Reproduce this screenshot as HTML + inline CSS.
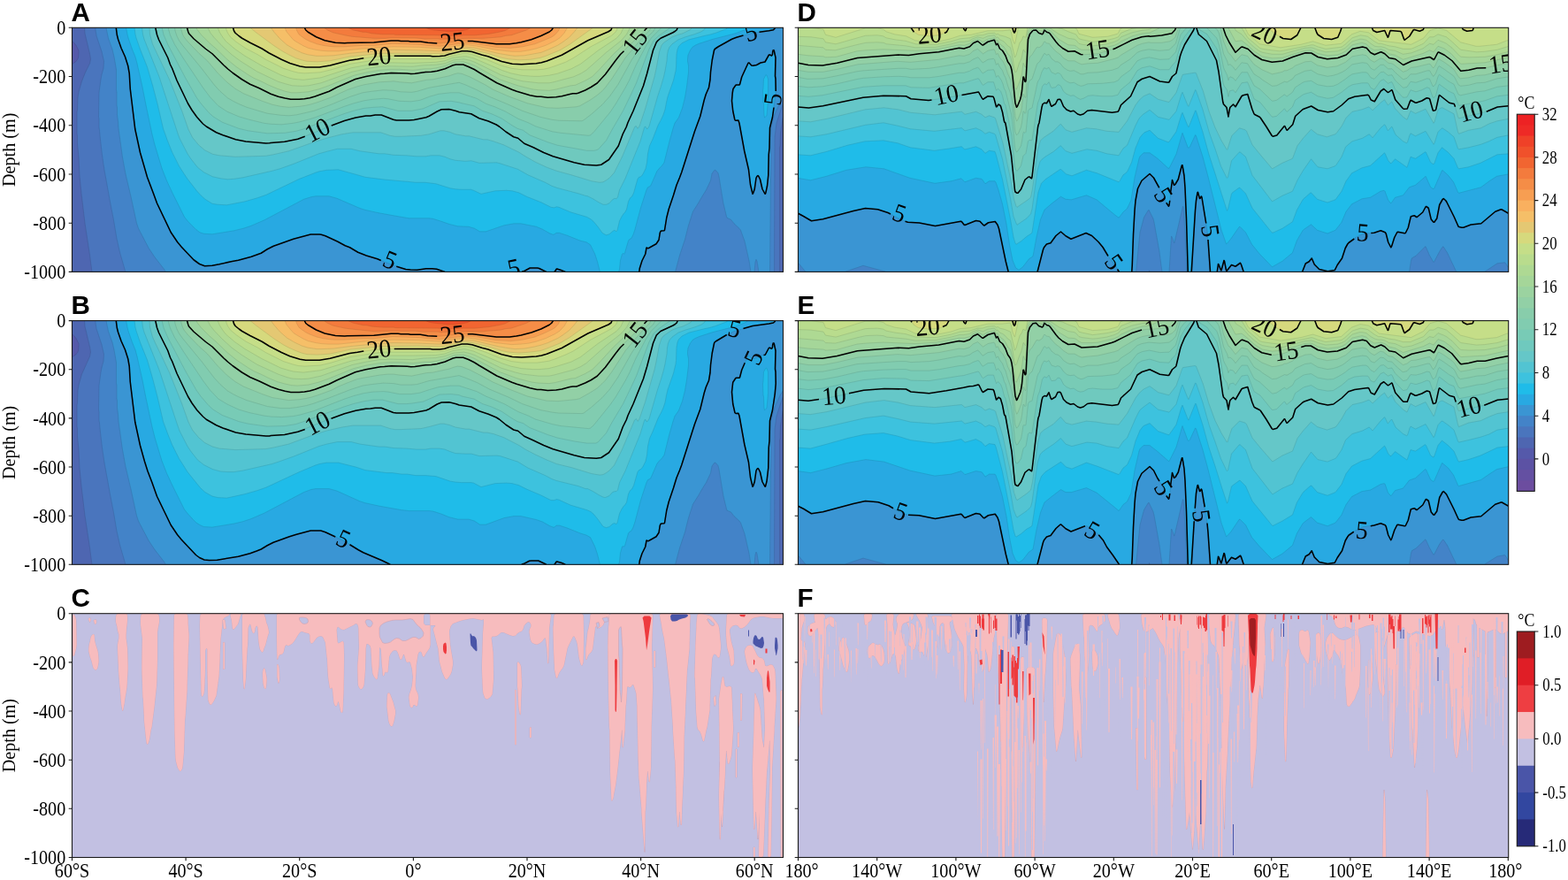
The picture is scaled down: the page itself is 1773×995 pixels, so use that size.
<!DOCTYPE html>
<html><head><meta charset="utf-8"><title>Figure</title><style>
html,body{margin:0;padding:0;background:#fff}
svg{display:block}
text{font-family:"Liberation Serif",serif;font-size:23.6px;fill:#000}
.c{font-size:29px}
.b{font-family:"Liberation Sans",sans-serif;font-weight:bold;font-size:29.6px}
</style></head><body>
<svg width="1773" height="995" viewBox="0 0 1773 995">
<defs><clipPath id="cA"><rect x="81.5" y="31.3" width="804.0" height="276.1"/></clipPath><clipPath id="cB"><rect x="81.5" y="362.6" width="804.0" height="275.7"/></clipPath><clipPath id="cC"><rect x="81.5" y="693.7" width="804.0" height="275.8"/></clipPath><clipPath id="cD"><rect x="902.5" y="31.3" width="803.2" height="276.1"/></clipPath><clipPath id="cE"><rect x="902.5" y="362.6" width="803.2" height="275.7"/></clipPath><clipPath id="cF"><rect x="902.5" y="693.7" width="803.2" height="275.8"/></clipPath></defs>
<g clip-path="url(#cA)"><rect x="81.5" y="31.3" width="804.0" height="276.1" fill="#5559aa"/><g transform="translate(81.50,31.30) scale(0.5000)" fill-rule="evenodd"><path fill="#4e66b1" stroke="#414c8b" stroke-width="0.90" d="M-1-1l1610 0 0 554-1610 0 0-471 3-1 6-4 4-5 2-4 1-11 0-5-6-12-7-8-3 0z"/><path fill="#4a75bd" stroke="#3d5892" stroke-width="0.90" d="M28-1l1581 0 0 203-1 0-1 4-5 32-1 29-1 5 0 281-1555 0-5-39-11-72-5-42-3-25-4-40-2-42-3-31 0-17-1-5 0-49 1-5 1-28 2-13 7-24 8-20 10-20 2-10-2-12-11-46z"/><path fill="#4383c8" stroke="#38639c" stroke-width="0.90" d="M53-1l1556 0 0 173-1 0-4 10-11 34-4 31-1 306-1467 0-13-45-7-31-7-42-8-41-7-39-6-33-3-20-2-14-2-17-3-27-1-12-1-6 0-19-1-6 1-55 4-29 2-11 4-14 1-16-5-22-12-36-2-13z"/><path fill="#3a95d3" stroke="#3270a4" stroke-width="0.90" d="M77-1l1532 0 0 159-1 0-7 11-12 27-3 9-5 22-3 326-25 0-4-25-2-4-2 6-2 23-8 0-4-26-10-44-9-25-3-4-12-11-7-9-9-4-1-3-7-29-10-61-2-8-5-6-2-1-2 1-5 7-3 16-10 21-10 16-8 14-12 19-10 31-8 32-12 36-10 38-1152 0-4-7-21-27-14-21-23-44-4-12-13-60-12-51-7-38-9-65-1-16-2-15 0-16-1-5 0-30-1-5 0-20 0-5 0-21-2-12-3-17-4-17-9-25-4-19z"/><path fill="#28a9e2" stroke="#277faf" stroke-width="0.90" d="M100-1l1490 0 0 1-1 2-3 3-10 2-37 5-42 12-27 14-17 11-6 24-4 44-3 18-6 15-4 13-9 37-13 34-30 93-4 12-7 17-17 54-6 20-4 28-1 1-8 1-2 4-2 16-6 9-17 10-2 0-2-1-1 0-3 14-7 15-3 9-2 8-1 9-167 0 0-1-8-3-11-3-2 1-5 6-17 0 0-1-17-8-17-1-5 1-10 6-8 2 0 1-173 0 0-1-17-6-11-1-15 0-20 3-16 0-18-4-31-11-25-10-24-7-20-8-18-11-11-4-16-9-28-13-12-4-22 1-39 10-44 16-14 7-15 9-10 4-15 5-26 7-48 10-22 3-6 0-10-4-8-5-9-7-25-27-10-11-14-22-32-65-21-57-17-58-11-54-11-91-3-35-3-17-6-20-9-20-7-20-2-10zM1586 50l2 2 3 16-1 41 1 6 1 27-3 23-5 37-6 24-1 47-1 14-1 47-3 24-3 14-1 3-1 1-7-14-4-20-4-7-2 0-3 5-4 25-4 11-5-21-4-34-9-41-12-65-2-5-6 0-2-2-5-20-2-24 2-24 6-10 9-1 1-1 4-17 15-31 2-1 5 6 4 1 8-1 9-5 10-3 9-16 2 0 4 2 1 0 1-9z"/><path fill="#1fbce9" stroke="#1c8fb8" stroke-width="0.90" d="M122-1l1405 0 0 1-1 2-5 3-21 8-51 13-31 10-9 4-6 4-5 7-5 11-1 9 0 5 2 10 0 15-4 33-4 24-6 24-8 21-9 13-4 12-8 29-12 48-5 7-5 5-6 7-13 30-2 4-6 3-3 6-13 40-13 49-4 12-4 8-5 3-2 3-8 27-2 3-2-2-2 2-4 14-2 20-2 7-42 0-6-24-6-18-10-20-9-6-13-3-30-12-18-6-7 0-4 3-3 1-8-3-16-9-14-6-35-7-16 0-22 4-41 14-14 0-12-7-13-4-25-1-20-5-17-6-19-6-8-1-46 0-18-3-50-9-32-7-12-4-51-22-18-5-30 0-11 2-16 5-89 47-30 13-18 6-21 5-49 8-19-1-9-3-8-6-7-7-12-12-8-10-26-52-14-30-11-28-16-53-6-24-14-66-8-41-12-53-4-15-7-17-9-26-2-8zM1569 107l1 0 1 1 3 8 0 49-3 33-4 5-1 0-1-6-1-25-1-4-1-25 1-6 1-21z"/><path fill="#3dc2de" stroke="#2599b6" stroke-width="0.90" d="M141-1l1341 0 0 1-1 2-2 1-24 9-14 4-10 2-36 9-16 8-7 7-3 7-2 11-1 30-1 8-5 21-13 37-3 13-3 16-4 12-5 11-7 13-12 31-7 15-4 18-2 20-3 14-6 12-3 4-2 2-4 1-3 4-9 32-4 8-4 3-4 8-4 18-4 7-3 3-4 6-5 10-5 21-2 3-4-3-4 2-8 7-7 2-6-3-3-2-10-14-10-12-6-5-9-5-37-11-26-11-5-1-6 2-7-1-22-11-33-13-18-9-15-4-13-1-25 1-32 7-17-8-6-2-22 0-13-1-12-2-32-10-24-3-22 0-19-2-13-1-21-2-13-1-48-6-21-6-40-11-26 1-17 3-9 3-36 14-75 36-20 7-28 8-41 8-20-1-13-2-16-10-10-9-9-10-21-27-10-15-9-14-16-32-10-25-10-28-13-56-11-42-12-41-16-40-9-26-2-8z"/><path fill="#52c4d2" stroke="#399cad" stroke-width="0.90" d="M158-1l1274 0 0 1-2 4-7 5-16 6-20 6-16 6-14 10-6 7-3 7-2 10-1 14-4 23-3 13-6 21-8 24-19 67-4 6-2-1-2-4-2 0-1 2-9 31-34 84-13 26-4 16-3 4-4-1-5 3-7 8-7 3-3 0-4 0-10-5-13-8-12-6-5-1-16-5-49-13-11-4-15-8-39-17-23-13-40-13-8-2-39 1-18-5-14 1-22-2-12-3-12-5-12-3-20 0-11 2-22 0-21-2-30-1-20-3-13 0-43-6-20-5-31 0-24 6-18 5-57 23-31 11-18 5-66 15-20 3-14 1-16-2-18-4-20-10-14-11-15-19-8-12-18-35-4-11-42-128-34-85-3-11z"/><path fill="#65c7c8" stroke="#499ea4" stroke-width="0.90" d="M175-1l1226 0 0 1-2 4-10 5-8 4-11 3-13 5-19 13-5 6-5 15-7 38-4 18-21 73-13 39-3 4-1 1-3-5-2 0-2 2-28 67-18 36-11 12-7 5-7 4-8 1-18-3-46-14-33-9-22-8-26-12-23-13-14-9-35-17-23-8-14-4-9 0-32-8-8 0-23-4-13-5-13-3-8 0-26 8-18 3-46 2-13 0-11-2-21-7-63 0-25 4-35 9-26 8-59 21-35 8-17 3-69 2-36-3-15-3-18-9-14-12-14-17-9-18-15-43-28-70-32-67-6-13-6-22z"/><path fill="#6fc9be" stroke="#55a09c" stroke-width="0.90" d="M189-1l1180 0 0 1-2 5-3 3-33 16-9 9-8 18-14 53-8 27-23 57-24 53-10 28-21 30-16 11-12 2-27-2-23-5-48-14-21-9-23-11-21-9-14-12-10-3-18-11-14-12-7-5-18-7-21-7-18-10-27-4-14-4-10-2-16 0-10 4-18 11-8 3-27 5-12 1-28 0-7-1-28-11-13 0-11 2-9 0-24 4-23 7-28 10-74 30-36 8-42 3-53-5-22-5-33-12-26-15-7-6-9-10-17-21-9-15-24-52-16-37-5-14-21-42-4-11z"/><path fill="#78cbb6" stroke="#5ca295" stroke-width="0.90" d="M203-1l1150 0 0 1-26 18-12 11-10 19-29 77-13 28-17 35-25 43-13 24-18 20-5 2-5 1-16 0-27-5-39-7-22-7-41-16-15-11-13-4-12-7-24-16-22-10-21-7-19-11-27-6-7-2-18-3-26 1-14 6-23 10-26 5-12 0-19 0-35-9-20 1-21 2-25 6-22 7-93 35-15 4-25 4-40 1-43-6-21-5-37-14-21-13-10-9-18-21-10-14-25-44-39-74-10-23z"/><path fill="#81ccb0" stroke="#64a38f" stroke-width="0.90" d="M217-1l1116 0 0 1-23 23-12 18-23 44-15 34-9 17-22 37-12 18-38 46-7 6-4 1-63-6-19-3-38-12-16-8-23-9-30-17-23-10-20-7-21-12-40-13-19 0-27 3-21 6-21 8-20 3-27-1-25-5-11-1-24 2-20 3-23 6-21 7-69 26-32 9-15 3-26 3-24-1-16-2-33-8-24-7-26-11-20-13-19-20-15-20-45-67-20-32-10-21-3-10z"/><path fill="#88cdab" stroke="#6aa48b" stroke-width="0.90" d="M232-1l1087 0 0 1-5 9-11 10-10 14-27 39-31 56-19 27-17 19-25 22-17 13-4 2-52-1-16-2-26-6-41-14-31-14-43-18-28-15-27-12-14-5-68 12-27 8-12 2-25-1-16-3-23-1-27 3-20 3-28 9-46 19-36 13-17 4-22 5-17 2-18-1-31-4-47-14-19-8-12-6-12-7-17-15-13-14-30-39-42-51-8-11-5-10-4-12z"/><path fill="#92d0a6" stroke="#71a587" stroke-width="0.90" d="M246-1l1063 0 0 1-3 6-13 13-41 48-31 48-15 20-7 8-12 10-16 11-23 13-8 2-41 3-26-1-43-10-41-15-37-16-18-11-35-18-18-7-9-1-8 2-11 4-19 4-18 4-14 1-34 7-27-2-14-2-13 1-19 1-35 6-15 4-21 7-22 10-15 7-30 11-16 5-13 3-13 2-25 2-18-2-19-4-23-8-42-17-19-11-19-15-21-21-23-27-19-17-26-27-8-10-3-6-3-10z"/><path fill="#9bd3a0" stroke="#78a882" stroke-width="0.90" d="M260-1l1041 0 0 1-61 60-10 13-24 32-17 19-15 11-21 10-12 4-9 0-25 6-24 3-31-2-12-2-37-11-39-17-42-24-12-8-14-6-11-4-17-1-11 4-13 6-18 5-13 2-14 0-24 4-9 1-9-2-36-1-24 2-33 6-24 7-42 18-17 9-32 12-24 5-12 1-17 0-19-3-18-5-10-4-26-13-21-9-18-11-31-23-36-35-42-34-11-12-2-4z"/><path fill="#a5d699" stroke="#80aa7d" stroke-width="0.90" d="M281-1l1000 0 0 1-13 16-13 15-31 29-32 35-16 16-16 9-22 10-10 1-36 9-13 2-24-1-15-2-32-8-41-14-56-31-12-5-14-4-21 1-20 8-20 5-13 2-14 0-26 3-31-2-21 0-24 2-29 5-29 7-59 24-20 7-24 6-25 2-13 0-14-3-18-6-19-8-16-8-18-8-12-7-27-18-21-17-26-25-14-12-19-19-10-13z"/><path fill="#aed993" stroke="#88ac78" stroke-width="0.90" d="M306-1l956 0 0 1-8 15-12 14-34 27-45 40-13 8-16 7-45 12-10 2-24 0-36-4-16-4-33-10-59-29-11-4-14-3-23 2-20 8-21 3-27 1-25 3-52-1-23 1-30 5-32 7-70 25-28 6-16 1-21-1-12-3-20-6-48-23-35-22-22-16-22-20-18-19-8-10z"/><path fill="#b9dc8d" stroke="#90af73" stroke-width="0.90" d="M329-1l918 0 0 1-6 13-10 11-42 28-39 30-21 11-32 11-19 4-21 2-15 0-26-2-24-5-18-6-66-28-16-4-6 0-25 3-19 7-20 3-53 2-52-1-21 1-27 4-38 7-68 22-40 5-22-2-12-3-17-6-43-21-38-22-23-16-20-17-7-9-7-11z"/><path fill="#c5de88" stroke="#99b16f" stroke-width="0.90" d="M348-1l885 0 0 1-1 5-3 5-9 8-47 25-40 26-17 9-25 9-12 4-13 3-14 1-34 0-24-3-25-7-32-13-34-12-11-2-7 0-26 6-15 4-11 2-18 1-108 0-21 2-57 9-43 13-25 6-35 2-14-1-12-3-22-7-40-20-18-11-27-14-22-15-13-11-6-9-3-7z"/><path fill="#d6d97d" stroke="#a4b068" stroke-width="0.90" d="M364-1l857 0 0 1-2 5-6 4-46 20-59 33-34 14-24 5-33 2-21-1-24-6-31-11-37-11-10-1-10 0-12 2-30 9-10 1-16 0-6-1-105 0-22 2-51 7-19 4-30 8-24 5-29 0-19-4-26-9-39-19-18-11-27-14-17-9-13-10-4-6z"/><path fill="#e4c873" stroke="#b1a760" stroke-width="0.90" d="M403-1l775 0 0 1-53 38-22 13-32 13-12 4-23 4-25 1-24-2-15-3-29-9-37-9-19-1-12 1-34 8-10 1-49-1-80 0-72 7-47 10-28 2-24-1-12-3-13-4-16-8-13-7-20-13-42-31-12-10z"/><path fill="#f5bf68" stroke="#bd9c58" stroke-width="0.90" d="M449-1l694 0 0 1-7 9-12 13-15 11-11 7-22 10-15 6-16 3-22 4-22 1-15-2-23-4-55-13-20-1-12 1-35 7-11 1-47-2-55-1-26 1-74 7-37 5-26 1-12 0-20-3-13-4-17-8-17-10-16-14-13-15z"/><path fill="#f9b05f" stroke="#c69350" stroke-width="0.90" d="M481-1l639 0 0 1-7 12-10 11-11 7-21 10-21 7-17 4-19 3-20 0-36-4-46-9-17-2-19 1-45 7-47-3-59-1-65 4-57 6-24 0-15-1-13-2-17-4-11-5-14-8-8-5-7-8-9-11z"/><path fill="#f79e52" stroke="#c68647" stroke-width="0.90" d="M506-1l597 0 0 1-3 7-8 9-7 5-19 8-20 8-14 3-13 3-27 3-34-2-45-8-17-1-12 0-52 7-29-2-18-2-60-2-41 4-25 0-45 3-21 0-12-1-14-2-13-3-16-6-10-5-10-7-5-4-5-9z"/><path fill="#f58d47" stroke="#c5783d" stroke-width="0.90" d="M525-1l563 0 0 1-3 5-7 5-17 9-19 7-26 7-11 2-15 2-18 0-12 0-56-7-22 0-50 5-27-1-18-3-22 0-29-2-15 1-39 3-26 0-5 1-44 1-12-1-15-3-11-3-16-6-7-4-12-8-6-5z"/><path fill="#f37b3d" stroke="#c36a35" stroke-width="0.90" d="M570-1l468 0 0 1-12 6-18 6-15 5-12 1-12 3-39 3-29 0-5 0-45 1-17 1-7-1-29 0-23-2-56 0-10 1-27 0-49-4-16-3-27-6-13-6-7-5z"/><path fill="#f16531" stroke="#c25a2c" stroke-width="0.90" d="M624-1l368 0 0 1-14 7-13 3-22 4-32 3-27 0-5 1-36 0-16-1-96-1-4-1-24 0-25-2-13-3-7 0-23-5-11-5z"/><path fill="#f0512b" stroke="#c04925" stroke-width="0.90" d="M800-1l102 0 0 1-8 4-15 3-13 1-19 0-30-3-10-2-7-3z"/></g><path transform="scale(0.2500)" fill="none" stroke="#000" stroke-width="6.20" stroke-linejoin="round" stroke-linecap="butt" d="M3506 125l-2 4-6 6-20 4-44 6M3362 160l-31 9-21 8-61 34-15 10-4 6-9 45-7 54-2 34-6 36-13 30-8 26-18 74-25 68-59 185-9 24-14 34-14 46-21 62-10 40-9 56-2 2-12 1-4 2-3 7-5 32-12 18-34 19-4 1-4-3-2 1-5 28-15 30-6 19-5 16-2 16M3498 225l3 4 7 32-2 83 2 12 1 56M3500 486l-6 44-12 48-2 92-3 28-2 95-5 48-6 28-2 7-2 1-12-22-10-44-7-14-3-3-4 3-4 8-7 50-7 20-2 2-10-42-8-68-19-83-23-126-4-13-2-1-10 1-3-1-2-4-8-38-5-46 3-36 3-18 11-16 3-2 13 0 3-2 9-34 29-63 4-1 11 12 7 1 16-3 18-10 20-4 18-32 4 0 8 4 2-2 2-5 1-12 3-8M2012 1230l-37-13-20-2-28 0-40 6-30-1-22-2-42-13M1723 1178l-16-7-50-15-38-15-37-22-21-8-33-18-56-26-19-6-8-1-40 0-78 21-90 32-28 14-28 18-44 16-59 16-28 5-58 13-32 6-34 2-24-9-26-19-55-58-19-23-29-43-63-132-16-44-28-74-32-111-23-106-22-182-4-70-6-34-13-41-18-40-14-40-5-20-4-32M2471 1230l-32-16-8-2-34 0-24 13-12 4M2557 1230l-19-8-19-6-3 2-6 10-4 2M3065 125l-4 10-7 6-10 6-56 26-12 10-7 8-15 36-28 107-16 54-46 114-24 52-7 20-16 32-20 54-43 62-35 23-22 3-54-3-46-10-96-28-42-17-46-23-42-18-28-24-20-6-35-23-29-23-14-9-36-16-42-13-36-20-54-8-14-5-32-8-34 1-20 9-36 21-14 6-54 11-24 2-56 0-14-3-54-21-28 0-22 4-20 0-46 8-51 14-59 22M1379 617l-32 12-60 12-62 5-6 1-16 1-91-8-46-9-58-20-30-12-45-27-15-12-27-30-23-32-18-30-50-104-21-54-9-18-11-31-41-82-8-22-7-32M2927 125l-13 14M2822 231l-15 14-20 25-49 66-37 40-28 18-26 14-32 13-8 2-16 0-14 3-36 9-26 4-38 2-30-4-18 0-32-6-60-18-22-8-68-30-78-46-24-15-26-12-24-10-32 0-14 3-36 16-36 10-26 4-26 1-48 7-18 1-18-2-72-2-30 3-18 1-66 12-48 12-84 37-34 18-64 23-24 7-24 4-24 2-38 0-26-5-30-7-34-12-52-26-42-18-37-22-41-29-21-17-20-18-52-52-30-22-54-46-22-24-3-8-5-18M2768 125l-4 10-12 8-93 40-118 66-68 27-24 7-24 4-66 4-42-2-48-11-62-23-28-7-44-14-22-3-24 0-58 14-20 7-22 2-32 1-12-2-162 0M1645 263l-28 5-36 5-88 23-48 8-62 0-26-4-46-14-38-17-56-29-32-20-54-27-36-20-14-10-17-14-6-10-4-14M2502 125l-7 11-10 8-38 18-44 17-46 12-22 4-30 4-60 0-108-13-22 0M1977 196l-42-3-34-5-44 0-10-2-34 0-12-2-32 0-78 8-120 2-12 1-42-2-48-10-39-16-37-22-10-9-6-11"/><text transform="translate(511.5,47.0) rotate(-6.0) scale(0.950,1)" text-anchor="middle" y="9.6" class="c">25</text><text transform="translate(428.5,63.5) rotate(-6.0) scale(0.950,1)" text-anchor="middle" y="9.6" class="c">20</text><text transform="translate(359.0,147.0) rotate(-27.0) scale(0.950,1)" text-anchor="middle" y="9.6" class="c">10</text><text transform="translate(718.0,47.0) rotate(-52.0) scale(0.950,1)" text-anchor="middle" y="9.6" class="c">15</text><text transform="translate(441.0,294.0) rotate(22.0) scale(0.950,1)" text-anchor="middle" y="9.6" class="c">5</text><text transform="translate(581.0,303.0) rotate(-12.0) scale(0.950,1)" text-anchor="middle" y="9.6" class="c">5</text><text transform="translate(849.0,36.5) rotate(-15.0) scale(0.950,1)" text-anchor="middle" y="9.6" class="c">5</text><text transform="translate(874.0,112.0) rotate(-82.0) scale(0.950,1)" text-anchor="middle" y="9.6" class="c">5</text></g>
<g clip-path="url(#cB)"><rect x="81.5" y="362.6" width="804.0" height="275.7" fill="#5559aa"/><g transform="translate(81.50,362.60) scale(0.5000)" fill-rule="evenodd"><path fill="#4e66b1" stroke="#414c8b" stroke-width="0.90" d="M-1-1l1610 0 0 553-1610 0 0-470 3-1 6-4 4-5 2-4 1-11 0-5-6-12-7-8-3-1z"/><path fill="#4a75bd" stroke="#3d5892" stroke-width="0.90" d="M28-1l1581 0 0 203-1 0-1 4-5 31-1 29-1 5 0 281-1555 0-5-39-11-72-5-42-3-25-4-40-2-42-3-31 0-17-1-5 0-48 1-5 1-28 2-13 7-24 18-40 2-10-2-12-11-46z"/><path fill="#4383c8" stroke="#38639c" stroke-width="0.90" d="M53-1l1556 0 0 172-1 0-4 11-11 34-4 30-1 306-1467 0-13-45-7-31-7-42-8-41-7-39-6-33-3-20-2-14-2-17-3-27-1-12-1-5 0-19-1-6 1-55 4-29 2-11 4-14 1-16-5-22-12-36-2-13z"/><path fill="#3a95d3" stroke="#3270a4" stroke-width="0.90" d="M77-1l1532 0 0 159-1 0-7 11-12 27-3 9-5 22-3 325-25 0-4-25-2-4-2 6-2 23-8 0-4-26-10-44-9-25-3-4-12-11-7-9-9-4-1-3-7-29-10-61-2-8-5-6-2-1-2 1-5 7-3 16-10 21-10 16-8 14-12 19-10 31-8 32-12 36-10 38-1152 0-4-7-21-27-14-21-23-44-4-12-13-60-12-51-7-38-9-64-1-16-2-15 0-16-1-5 0-30-1-5 0-20 0-5 0-21-2-12-3-17-4-17-9-25-4-19z"/><path fill="#28a9e2" stroke="#277faf" stroke-width="0.90" d="M100-1l1490 0 0 1-1 2-3 3-10 2-37 5-42 12-27 14-17 11-6 24-4 44-3 18-6 15-4 13-9 37-13 34-30 92-4 12-7 17-17 54-6 20-4 28-1 1-8 2-2 3-2 16-6 9-17 10-2 0-2-1-1 0-3 14-7 15-3 9-2 8-1 9-167 0 0-1-8-3-11-3-2 1-5 6-17 0 0-1-17-8-17 0-5 0-10 6-8 2 0 1-297 0 0-1-18-9-32-13-21-10-32-20-26-13-17-8-12-3-22 0-40 10-44 16-14 7-14 9-11 4-14 5-26 7-34 6-14 2-17 1-12-1-10-5-8-5-33-36-10-11-14-22-32-65-21-57-17-58-11-53-11-91-3-35-3-17-6-20-9-20-7-20-2-10zM1586 50l2 2 3 16-1 41 1 6 1 27-3 23-5 37-6 24-1 46-1 14-1 47-3 24-3 14-1 4-1 0-7-14-4-20-4-7-2 0-3 5-4 25-4 12-5-22-4-34-9-41-12-64-2-5-6 0-2-2-5-20-2-24 2-24 6-10 9-1 1-1 4-17 15-31 2-1 5 6 4 1 8-2 9-5 10-2 9-16 2 0 4 2 1-1 1-8z"/><path fill="#1fbce9" stroke="#1c8fb8" stroke-width="0.90" d="M122-1l1405 0 0 1-1 2-5 3-21 8-51 13-31 10-9 4-6 4-5 7-5 11-1 8 0 6 2 10 0 15-4 33-4 24-6 24-8 21-9 13-4 12-8 28-12 48-5 7-5 5-6 7-13 30-2 4-6 3-3 6-13 40-13 49-4 12-4 8-5 3-2 3-8 28-2 2-2-1-2 1-4 14-2 20-2 7-42 0-6-24-6-18-10-20-9-5-13-4-30-12-18-6-7 0-4 4-3 0-8-3-16-9-14-5-35-8-16 0-22 4-41 15-14 0-12-8-13-4-25 0-20-5-17-7-19-6-8-1-46 0-18-2-50-9-32-7-12-4-51-23-18-5-30 0-11 2-16 6-89 47-30 13-18 6-21 5-49 8-19-1-9-4-8-5-7-7-12-13-8-10-26-52-14-30-11-28-16-53-6-24-14-65-8-41-12-53-4-15-7-17-9-26-2-8zM1569 107l1 0 1 1 3 8 0 49-3 32-4 5-1 0-1-5-1-25-1-4-1-25 1-6 1-21z"/><path fill="#3dc2de" stroke="#2599b6" stroke-width="0.90" d="M141-1l1341 0 0 1-1 2-2 1-24 9-14 4-10 2-36 9-16 8-7 7-3 7-2 11-1 30-1 8-5 21-13 37-3 13-3 16-4 12-5 11-7 13-12 30-7 15-4 18-2 20-3 14-6 12-3 4-2 2-4 2-3 4-9 31-4 8-4 3-4 8-4 19-4 6-3 3-4 6-5 10-5 21-2 3-4-2-4 1-8 7-7 2-6-2-3-3-10-14-10-12-6-5-9-4-37-11-26-12-5-1-6 2-7 0-22-11-33-14-18-9-15-4-13-1-25 1-32 8-17-9-6-1-22 0-13-1-12-2-32-11-24-2-22 0-19-3-13 0-21-3-13 0-48-6-21-7-40-10-26 0-17 3-9 3-36 15-75 35-20 7-28 8-41 9-20-1-13-3-16-9-10-9-9-11-21-26-10-16-9-14-16-32-10-25-10-27-13-56-11-42-12-41-16-40-9-26-2-8z"/><path fill="#52c4d2" stroke="#399cad" stroke-width="0.90" d="M158-1l1274 0 0 1-2 4-7 5-16 6-20 6-16 6-14 10-6 7-3 7-2 10-1 14-4 23-3 13-6 21-8 24-19 66-4 6-2 0-2-4-2 0-1 2-9 30-34 84-13 26-4 17-3 3-4 0-5 2-7 8-7 3-3 1-4-1-10-5-13-8-12-6-5 0-16-6-49-12-11-4-15-8-39-17-23-14-40-13-8-1-39 1-18-5-14 0-22-1-12-4-12-5-12-2-20 0-11 2-22 0-21-2-30-1-20-3-13 0-43-6-20-5-31 0-24 5-18 5-57 23-31 11-18 6-66 15-20 3-14 0-16-1-18-5-20-10-14-11-15-19-8-12-18-35-4-11-42-127-34-85-3-11z"/><path fill="#65c7c8" stroke="#499ea4" stroke-width="0.90" d="M175-1l1226 0 0 1-2 4-10 5-8 4-11 3-13 5-19 13-5 6-5 15-7 38-4 18-21 73-13 38-3 5-1 0-3-5-2 1-2 2-28 66-18 36-11 12-7 5-7 4-8 1-18-3-46-14-33-8-22-9-26-12-23-12-14-9-35-18-23-8-14-3-9 0-32-8-8 0-23-4-13-5-13-3-8 0-26 7-18 4-46 2-13 0-11-2-21-7-63 0-25 4-35 8-26 8-59 22-35 8-17 3-69 2-36-3-15-4-18-9-14-12-14-17-9-18-15-42-28-70-32-67-6-13-6-22z"/><path fill="#6fc9be" stroke="#55a09c" stroke-width="0.90" d="M189-1l1180 0 0 1-2 5-3 3-33 16-9 8-8 19-14 53-8 27-23 57-24 52-10 28-21 30-16 11-12 2-27-1-23-6-48-14-21-8-23-11-21-10-14-12-10-2-18-12-14-12-7-4-18-8-21-7-18-9-27-4-14-5-10-2-16 1-10 4-18 11-8 3-27 5-12 1-28 0-7-1-28-11-13 0-11 2-9 0-24 4-23 6-28 10-74 30-36 9-42 3-53-5-22-5-33-13-26-14-7-6-9-10-17-22-9-15-24-51-16-37-5-14-21-42-4-11z"/><path fill="#78cbb6" stroke="#5ca295" stroke-width="0.90" d="M203-1l1150 0 0 1-26 18-12 11-10 19-29 77-13 28-17 35-25 42-13 24-18 20-5 3-5 0-16 0-27-4-39-8-22-7-41-16-15-10-13-4-12-7-24-16-22-10-21-7-19-11-27-6-7-3-18-2-26 1-14 6-23 10-26 4-12 1-19 0-35-9-20 0-21 3-25 6-22 7-93 34-15 5-25 4-40 1-43-6-21-5-37-14-21-13-10-9-18-21-10-14-25-44-39-74-10-23z"/><path fill="#81ccb0" stroke="#64a38f" stroke-width="0.90" d="M217-1l1116 0 0 1-23 23-12 18-23 44-15 34-9 17-22 37-12 17-38 47-7 6-4 1-63-6-19-4-38-11-16-8-23-9-30-17-23-10-20-8-21-11-40-13-19 0-27 3-21 6-21 7-20 3-27 0-25-5-11-1-24 1-20 3-23 6-21 7-69 27-32 9-15 3-26 2-24-1-16-2-33-7-24-7-26-12-20-12-19-20-15-20-45-67-20-32-10-21-3-10z"/><path fill="#88cdab" stroke="#6aa48b" stroke-width="0.90" d="M232-1l1087 0 0 1-5 9-11 10-10 14-27 39-31 55-19 28-17 19-25 22-17 13-4 1-52-1-16-2-26-5-41-14-31-15-43-18-28-15-27-11-14-5-68 12-27 8-12 1-25 0-16-3-23-1-27 3-20 3-28 9-46 18-36 13-17 5-22 4-17 2-18 0-31-4-47-14-19-8-12-6-12-7-17-15-13-14-30-39-42-51-8-11-5-10-4-12z"/><path fill="#92d0a6" stroke="#71a587" stroke-width="0.90" d="M246-1l1063 0 0 1-3 6-13 13-41 48-31 48-15 20-7 7-12 11-16 10-23 13-8 2-41 4-26-1-43-10-41-16-37-16-18-10-35-18-18-7-9-1-8 2-11 4-19 4-18 4-14 1-34 7-27-2-14-2-13 0-19 2-35 6-15 3-21 8-22 9-15 8-30 11-16 5-13 3-13 2-25 2-18-3-19-3-23-8-42-17-19-11-19-15-21-21-23-27-19-17-26-27-8-10-3-6-3-10z"/><path fill="#9bd3a0" stroke="#78a882" stroke-width="0.90" d="M260-1l1041 0 0 1-61 60-10 13-24 32-17 19-15 10-21 10-12 5-9 0-25 6-24 3-31-2-12-3-37-10-39-17-42-24-12-8-14-6-11-5-17 0-11 4-13 6-18 5-13 2-14 0-24 4-9 0-9-1-36-1-24 2-33 6-24 6-42 19-17 8-32 12-24 6-12 1-17 0-19-4-18-5-10-4-26-12-21-9-18-11-31-23-36-35-42-34-11-12-2-4z"/><path fill="#a5d699" stroke="#80aa7d" stroke-width="0.90" d="M281-1l1000 0 0 1-13 16-13 15-31 29-32 35-16 16-16 9-22 10-10 1-36 9-13 2-24-1-15-2-32-8-41-15-56-30-12-5-14-4-21 1-20 8-20 5-13 2-14 0-26 3-31-2-21 0-24 2-29 5-29 7-59 24-20 7-24 6-25 2-13-1-14-3-18-5-19-8-16-8-18-8-12-7-27-18-21-17-26-25-14-12-19-19-10-13z"/><path fill="#aed993" stroke="#88ac78" stroke-width="0.90" d="M306-1l956 0 0 1-8 15-12 14-34 27-45 40-13 8-16 7-45 12-10 2-24 0-36-4-16-4-33-10-59-29-11-4-14-3-23 2-20 7-21 4-27 1-25 3-52-1-23 1-30 5-32 7-70 25-28 6-16 1-21-1-12-3-20-7-48-22-35-22-22-16-22-20-18-19-8-10z"/><path fill="#b9dc8d" stroke="#90af73" stroke-width="0.90" d="M329-1l918 0 0 1-6 13-10 11-42 28-39 30-21 11-32 10-19 5-21 2-15 0-26-2-24-5-18-6-66-28-16-4-6-1-25 4-19 7-20 3-53 1-52 0-21 1-27 4-38 7-68 21-40 5-22-2-12-3-17-5-43-21-38-22-23-16-20-17-7-9-7-11z"/><path fill="#c5de88" stroke="#99b16f" stroke-width="0.90" d="M348-1l885 0 0 1-1 5-3 5-9 8-47 25-40 26-17 8-25 10-12 4-13 2-14 2-34 0-24-3-25-7-32-13-34-12-11-2-7 0-26 5-15 5-11 2-18 1-108 0-21 2-57 9-43 13-25 6-35 2-14-1-12-3-22-7-40-20-18-11-27-14-22-15-13-11-6-9-3-7z"/><path fill="#d6d97d" stroke="#a4b068" stroke-width="0.90" d="M364-1l857 0 0 1-2 5-6 4-46 20-59 33-34 13-24 6-33 2-21-1-24-6-31-11-37-11-10-1-10 0-12 2-30 8-10 2-16 0-6-1-105 0-22 2-51 7-19 4-30 8-24 4-29 1-19-4-26-9-39-19-18-11-27-14-17-9-13-10-4-6z"/><path fill="#e4c873" stroke="#b1a760" stroke-width="0.90" d="M403-1l775 0 0 1-53 38-22 13-32 13-12 4-23 3-25 2-24-2-15-3-29-9-37-9-19-2-12 2-34 8-10 1-49-2-80 1-72 7-47 10-28 2-24-1-12-3-13-5-16-7-13-7-20-13-42-31-12-10z"/><path fill="#f5bf68" stroke="#bd9c58" stroke-width="0.90" d="M449-1l694 0 0 1-7 9-12 13-15 11-11 7-22 10-15 5-16 4-22 4-22 1-15-2-23-4-55-13-20-1-12 1-35 7-11 1-47-2-55-1-26 1-74 7-37 5-26 1-12 0-20-3-13-4-17-8-17-10-16-14-13-15z"/><path fill="#f9b05f" stroke="#c69350" stroke-width="0.90" d="M481-1l639 0 0 1-7 12-10 11-11 7-21 10-21 7-17 4-19 2-20 1-36-4-46-9-17-2-19 1-45 7-47-3-59-1-65 4-57 6-24 0-15-1-13-2-17-4-11-5-14-8-8-5-7-8-9-11z"/><path fill="#f79e52" stroke="#c68647" stroke-width="0.90" d="M506-1l597 0 0 1-3 7-8 9-7 4-19 9-20 8-14 3-13 3-27 3-34-2-45-8-17-1-12 0-52 7-29-2-18-2-60-2-41 4-25 0-45 3-21 0-12-1-14-2-13-3-16-6-10-5-10-7-5-4-5-9z"/><path fill="#f58d47" stroke="#c5783d" stroke-width="0.90" d="M525-1l563 0 0 1-3 5-7 5-17 9-19 7-26 7-11 2-15 2-18 0-12 0-56-7-22 0-50 5-27-1-18-3-22 0-29-2-15 0-39 4-26 0-5 1-44 1-12-1-15-3-11-3-16-6-7-4-12-8-6-5z"/><path fill="#f37b3d" stroke="#c36a35" stroke-width="0.90" d="M570-1l468 0 0 1-12 6-18 6-15 5-12 1-12 3-39 3-29 0-5 0-45 1-17 1-7-1-29 0-23-2-56 0-10 0-27 1-49-5-16-2-27-6-13-6-7-5z"/><path fill="#f16531" stroke="#c25a2c" stroke-width="0.90" d="M624-1l368 0 0 1-14 7-13 3-22 4-32 3-27 0-5 1-36 0-16-1-96-1-4-1-24 0-25-2-13-3-7 0-23-5-11-5z"/><path fill="#f0512b" stroke="#c04925" stroke-width="0.90" d="M800-1l102 0 0 1-8 4-15 3-13 1-19 0-30-3-10-2-7-3z"/></g><path transform="scale(0.2500)" fill="none" stroke="#000" stroke-width="6.20" stroke-linejoin="round" stroke-linecap="butt" d="M3506 1450l-2 5-6 5-20 4-74 10-42 12M3287 1514l-50 30-5 4-2 5-9 44-7 54-2 34-6 36-13 30-8 26-18 74-25 67-59 185-9 24-14 34-14 46-21 62-10 40-9 56-2 2-12 1-4 2-3 7-5 32-12 18-34 19-4 1-4-3-2 1-5 28-15 30-6 18-5 16-2 16M3498 1550l3 4 7 32-2 83 2 12 1 54-4 46-11 74-12 48-2 92-3 28-2 94-7 60-6 23-2 1-12-22-10-44-7-14-3-3-4 3-4 8-7 50-7 20-2 2-10-42-8-68-19-82-23-128-4-11-2-1-10 1-4-3-9-40-5-54 5-44 12-18 3-2 13 0 3-2 9-34 14-32M3454 1606l6-1 2-2 16-30 4 0 8 4 2-2 2-5 1-12 3-8M1765 2553l-37-18-85-36-22-12-39-24M1517 2428l-45-21-21-7-46 0-64 17-32 10-72 26-28 14-28 17-20 8-30 11-53 14-96 16-36 1-22-2-22-10-16-12-65-69-19-23-29-43-63-130-22-62-20-52-14-44-20-72-23-106-22-182-4-70-6-34-13-41-18-40-14-40-5-20-4-32M2471 2553l-36-17-32 0-9 1-21 11-14 5M2557 2553l-19-8-19-5-3 1-6 10-4 2M3065 1450l-4 10-7 6-10 6-56 26-12 11-7 7-15 36-28 107-16 54-46 114-24 52-7 20-16 32-20 54-43 62-35 23-22 3-54-3-46-11-96-28-42-17-46-22-42-19-28-24-20-5-35-23-29-24-14-9-36-15-42-14-36-19-54-8-14-5-32-8-34 1-20 8-36 22-14 6-54 10-24 2-56 0-14-2-54-21-28 0-22 3-20 1-46 8-51 14-60 22M1379 1942l-32 11-60 13-62 4-6 2-16 0-91-8-46-8-58-20-30-13-45-26-15-13-27-29-23-32-18-30-50-104-21-54-9-18-11-31-41-82-8-22-7-32M2927 1450l-13 14M2822 1556l-15 14-20 25-49 66-37 40-28 18-26 13-32 13-8 3-16 0-14 2-36 10-26 4-38 2-30-4-18 0-32-7-60-18-22-8-68-29-78-46-24-15-26-13-24-9-32 0-14 3-36 16-36 10-26 4-26 1-48 7-18 1-18-2-72-2-30 3-18 1-66 12-48 12-84 37-34 17-64 24-24 7-24 4-24 2-38 0-26-5-30-8-34-12-52-25-42-18-37-22-41-29-21-17-20-18-52-52-30-22-54-46-22-24-3-8-5-18M2768 1450l-4 10-12 8-93 40-118 66-68 27-24 7-24 4-66 4-42-2-48-11-62-23-28-7-44-14-22-3-24 0-58 14-20 7-22 3-32 0-12-2-162 0M1645 1588l-28 5-36 5-88 23-48 8-62 0-26-4-46-14-38-17-56-29-32-20-54-27-36-20-14-10-17-14-6-10-4-14M2502 1450l-7 11-10 8-38 19-44 16-46 12-22 4-30 4-60 0-108-13-22 0M1977 1521l-42-2-34-6-44 0-10-2-34 0-12-2-32 0-78 8-120 2-12 1-42-2-48-10-39-16-37-22-10-8-6-12"/><text transform="translate(511.5,378.3) rotate(-6.0) scale(0.950,1)" text-anchor="middle" y="9.6" class="c">25</text><text transform="translate(428.5,394.8) rotate(-6.0) scale(0.950,1)" text-anchor="middle" y="9.6" class="c">20</text><text transform="translate(359.0,478.3) rotate(-27.0) scale(0.950,1)" text-anchor="middle" y="9.6" class="c">10</text><text transform="translate(718.0,378.3) rotate(-52.0) scale(0.950,1)" text-anchor="middle" y="9.6" class="c">15</text><text transform="translate(388.3,609.2) rotate(25.0) scale(0.950,1)" text-anchor="middle" y="9.6" class="c">5</text><text transform="translate(830.7,371.6) rotate(15.0) scale(0.950,1)" text-anchor="middle" y="9.6" class="c">5</text><text transform="translate(852.0,404.5) rotate(-65.0) scale(0.950,1)" text-anchor="middle" y="9.6" class="c">5</text></g>
<g clip-path="url(#cD)"><rect x="902.5" y="31.3" width="803.2" height="276.1" fill="#4a75bd"/><g transform="translate(902.50,31.30) scale(0.5000)" fill-rule="evenodd"><path fill="#4383c8" stroke="#38639c" stroke-width="0.90" d="M-1-1l1608 0 0 554-812 0-1-4 0 4-795 0z"/><path fill="#3a95d3" stroke="#3270a4" stroke-width="0.90" d="M-1-1l1608 0 0 543-2-1-5-8-2-2-17 2-27 18-1 2-64 0-21-44-9-14-2 1-7 11-12 23-2-1-8-14-8-18-1-2-1 0-21 21-9 5-2 6-4 26-504 0-3-89-3-48-1-11-1-1-19 82-1 1 0-1-5-14-1 0-5 81-16 0-6-46-12-67-2-8-10-20-2 2-9 15-9 34-9 90-566 0 0-1-3-1-48-13-38 13-2 1 0 1-90 0-1-2-14-17-3-2z"/><path fill="#28a9e2" stroke="#277faf" stroke-width="0.90" d="M-1-1l1608 0 0 421-2 0-14-9-2 0-13 5-32 27-23 3-17 6-4 0-7-3-27-55-6-7-2 0-8 13-6 31-6 9-2-1-5-5-6-26-6-3-7 12-13 11-1 1-5-4-8 2-5 25-7 12-2 1-15-3-2 1-6 11-6 19-2 4-6-11-5-20-1-2-3-2-8-3-16 5-23 2-18 9-17 13-6 10-8 24-10 15-6 11-16 3-19-4-11-12-6-14-6 8-8 4-7 20-132 0-6-17-2-4-11 8-9-4-11 14-1-2-4-20-1-2-6 23-1-1-6-14-3 19-15 0-7-94-12-75-1-3-4 5-4-14-1 1-3 18-2 22-8 140-9 0-3-121-3-70-2-27-4-24-1 0-1 3-7 29-7 11-2 2-1 0-4-12-6 54-2 6-6-10-10-23-9-15-9-17-8-8-2 0-17 15-7 13-3 9-5 32-8 153-28 0 0-2-13-19-15-19-7-14-3-4-9-10-13-13-14-8-35 14-12-7-10-9-2 0-10 9-12 16-9 3-6 7-3 9-12 47-66 0-6-25-15-74-3-8-6-8-15 3-9 6-2 0-8-9-9-2-25 11-7-8-2-1-59 11-36-8-26-1-21-9-23-13-23-7-27-2-28 5-69 19-26 4-18-11-13-6z"/><path fill="#1fbce9" stroke="#1c8fb8" stroke-width="0.90" d="M-1-1l1608 0 0 332-27 5-17 11-19 14-50 13-2-2-10-23-12-15-12-11-2 0-17 39-2 3-5-3-2-2-10-22-1-2-1 1-22 19-14 5-14 18-18 5-9 13-2-1-5-7-7-19-2-2-8 2-23 14-19 3-23 12-13 17-10 24-14 18-17 7-2 0-22-7-14-13-16 11-3 3-13 22-10 28-23 19-23 13-29-30-17-21-14-27-13-13-2 1-18 26-9 11-2 1-11-32-30-120-12-45-15-47-1-2-1 0-12 26-3 3-2-2-12-32-14 48-16 32-2 0-24-22-18-13-14 0-8 8-2 5-10 43-8 51-9 19-9 8-9 12-2 0-7-5-42-35-23-10-34 10-13-1-11-6-21 16-16 14-9 22-9 40-8 43-9 6-14 18-9 7-7-5-7-17-7-35-7-47-9-45-9-32-6-17-2-3-13 0-9 6-7-10-2-1-12-2-25 9-8-8-23 6-37 5-56-12-59-21-41-4-44 7-45 14-36 9-29-5z"/><path fill="#3dc2de" stroke="#2599b6" stroke-width="0.90" d="M-1-1l1608 0 0 286-26 2-38 19-27 9-22 4-2-2-9-21-13-14-14-11-9 12-8 23-2 3-5-3-2-2-10-22-2-1-22 15-11-4-8 24-27-19-9 10-2-1-5-6-6-14-2-3-32 29-19 5-23 12-13 18-10 23-14 19-17 6-2 0-22-7-13-14-2-1-16 14-3 4-12 21-10 27-23 15-22 10-2-1-44-55-15-33-13-13-2 0-15 11-2 3-8 34-2 4-12-37-15-47-14-43-14-51-15-47-1-2-1 1-15 37-2-3-12-30-2 4-12 39-16 23-2 1-23-9-19-18-12 5-3 3-7 8-2 5-8 19-9 33-9 19-2 3-8 6-8 14-2 2-49-20-24-7-33 13-13-4-11-10-2-1-34 23-9 9-7 20-14 91-1 2-11 7-13 11-11 7-2-3-4-13-7-41-18-90-14-54-3-9-13-2-9 6-8-9-13-6-24 6-2 0-6-6-2 0-24 4-36 5-54-7-29-10-32-6-42 2-40 9-46 14-37 9-29-2z"/><path fill="#52c4d2" stroke="#399cad" stroke-width="0.90" d="M-1-1l1608 0 0 244-26 5-19 9-18 7-28 7-22 4-2-2-9-26-13-11-13-9-2 1-8 8-8 25-2 3-18-30-23 11-11-6-2 4-5 16-2 2-8-4-17-15-8-18-1 0-1 1-7 8-1-1-5-11-2-2-9 8-18 22-6-7-2-1-15 9-23 7-11 9-4 4-9 22-12 18-3 3-17 6-22-4-15-18-18 26-13 22-11 25-23 10-21 12-2 1-45-59-15-42-13-11-2 1-17 19-8 37-2 2-1-1-13-26-13-39-13-36-15-53-15-42-1-2-1 0-15 37-2-2-12-30-2 4-12 39-16 19-25-6-19-16-15 10-7 7-3 4-7 14-19 45-9 7-10 16-27-4-23-7-22-3-34 9-14-5-11-12-2 1-14 12-18 11-9 7-4 5-6 21-12 86-3 11-9 10-22 15-2-4-6-15-7-41-18-89-15-52-1-3-2-2-12-4-9 4-8-7-13-6-25 6-7-6-2 0-60 7-54-5-28-7-33-7-41 5-88 21-36 6-29-2z"/><path fill="#65c7c8" stroke="#499ea4" stroke-width="0.90" d="M-1-1l1608 0 0 207-26 5-18 6-19 10-28 5-22 8-2-4-9-41-26-14-2 0-4 2-4 3-8 27-2 3-18-32-23 10-11-6-8 20-9-6-18-19-7-15-1 0-8 7-1-1-7-11-8 6-19 18-8-8-16 6-22 5-14 14-10 19-12 16-3 2-18 6-22-6-14-11-18 20-13 17-11 29-23 10-21 12-2 1-27-32-18-22-13-31-3-3-13-4-17 17-2 5-8 26-1 1-1-1-12-20-14-29-14-37-13-45-16-41-2-1-2 0-26 4-2 4-13 37-16 21-2 0-23-6-19-13-14 6-10 9-8 11-19 36-19 25-27-2-24-5-22-2-33 9-14-5-11-13-2 1-15 15-21 14-8 7-6 22-12 87-4 20-9 7-22 15-2-2-5-16-8-47-17-80-16-53-1-3-2-2-12-4-9 4-8-7-13-6-25 6-7-6-2 0-59 7-55-5-28-7-32-4-42 4-87 21-37 7-29-2z"/><path fill="#6fc9be" stroke="#55a09c" stroke-width="0.90" d="M-1-1l897 0 0 1-2 6-20 32-7 17-3 9-9 38-9 8-7 13-2 1-19-2-23-11-18 5-10 7-15 32-22 20-5 12-2 3-13 2-46-5-10 1-9 7-7 2-6-2-9-7-7 2-9-5-7-7-6-14-2-2-5 0-5 11-9 5-1-2-5-13-5 8-5-1-4 3-2 7-6 35-3 11-13 112-1 3-5-4-2 0-8 7-10 23-5 6-2 1-5-3-1-4-7-71-14-79-1-3-1 1-1-3-4-21-4-14-1-1-4-2-5 5-5-19-2-4-12-1-11 7-2-2-7-14-2-1-11 3-8 1-53 10-39 5-41-3-11-6-51-1-46 4-91 19-32 5-25-3zM901-1l706 0 0 178-26 2-28 12-59 14-2-4-7-24-2-5-11-2-22-17-2 4-6 28-2 2-4 1-1-1-7-25-1-1-5-2-12 6-13 5-2-1-10-5-2 3-6 16-8 1-19-21-7-21-1-1-1 0-6 5-2 0-9-8-7 5-14 24-8-4-5-10-2-1-30 4-14 5-15 14-19 14-13 2-22-4-15-10-16 6-3 2-17 15-6 19-12 12-1 1-1-1-4-9-1 1-17 20-9 3-2-1-26-41-14-9-15-45-13 5-14 24-5-6-7 7-1 3-3 18-4-20-7-8-1-5-10-68-5-26-22-44-18-15z"/><path fill="#78cbb6" stroke="#5ca295" stroke-width="0.90" d="M-1-1l891 0 0 1-16 20-9 16-11 41-8 8-7 10-2 0-19 0-23-8-18 4-10 6-16 26-21 17-7 12-13 3-23 0-21-2-10 1-11 6-7 2-6-3-9-6-7 1-9-4-7-6-6-12-2-2-5-1-5 6-9 1-1-1-5-12-5 6-4-2-2 1-4 5-6 27-4 10-13 84-1 1-5-1-3 3-5 27-5 5-1 1-5 22-6 9-3 3-3-3-2-6-7-71-14-68-3-5-4-17-4-10-6-6-4 4-6-19-13 0-11 7-2-2-7-12-3-1-32 10-9 0-69 11-41-1-12-4-50 0-46 3-93 19-31 3-24-2zM905-1l702 0 0 153-26 3-28 10-57 11-2 0-1-2-10-25-11-5-22-16-2 3-6 23-4 4-2 0-1-1-7-20-6-2-12 6-13 4-12-4-8 16-8 1-2-1-17-18-7-16-2 0-7 3-10-9-7 3-14 20-8-4-5-9-2-2-12 0-18 3-5 1-9 5-15 12-19 12-13 2-22-5-15-9-15 4-4 2-17 12-6 15-12 11-2-1-3-4-1-2-1 1-17 16-9 2-2-1-26-32-14-8-4-11-9-23-2-4-13 2-14 22-5-6-8 2-3 13-3-15-7-10-2-6-9-56-5-21-22-33-18-11z"/><path fill="#81ccb0" stroke="#64a38f" stroke-width="0.90" d="M-1-1l880 0 0 1-6 6-8 10-11 39-15 16-21 1-24-5-16 3-11 5-16 21-21 15-6 8-9 4-27 3-33 1-10 4-6 1-7-3-8-5-9 1-7-3-8-6-6-10-2-2-5-2-5 3-9-4-6-11-5 3-5-2-1 0-5 9-5 16-3 4-2 5-12 56-1 1-5 2-3 4-5 48-2 2-3-2-1 2-3 19-2 10-7 12-3 2-3-5-1-6-5-54-3-21-13-52-3-5-3-11-4-9-7-10-4 4-4-13-2-4-13 1-11 7-2-1-7-10-3-2-11 4-7 4-13 4-11 0-44 8-24 3-41 0-11-2-17-1-34 1-45 3-13 2-47 11-33 6-32 2-24-3zM924-1l683 0 0 132-26 3-28 9-18 2-37 8-5-2-10-23-11-6-22-16-1 1-2 4-5 16-5 6-2-1-7-16-6-1-13 5-12 4-12-2-8 12-8 2-2-1-17-16-7-12-1 0-8 1-10-8-7 1-14 15-8-3-7-10-4-2-8 0-23 4-9 6-6 5-9 6-9 6-10 4-13 1-22-4-15-9-14 2-5 2-17 11-6 11-12 9-2 0-4-4-18 13-9 2-2-1-27-26-13-8-15-30-13 0-14 19-5-6-7-3-2 2-2 6-3-12-6-12-2-5-10-50-4-13-2-4-22-23z"/><path fill="#88cdab" stroke="#6aa48b" stroke-width="0.90" d="M-1-1l865 0 0 1-10 35-7 8-8 7-21 2-25-3-16 3-10 4-16 15-22 14-5 6-14 5-32 5-23 1-10 3-6 0-15-8-9 1-6-2-9-6-7-9-6-4-5 0-9-7-6-10-5 2-5-4-1 1-10 18-4 3-2 3-11 33-6 4-3 7-5 65-2 2-3-5-1 1-3 25-2 10-6 14-4 4-3-7-1-6-6-63-4-19-6-17-5-18-3-5-4-11-6-8-4-8-1 0-3 3-4-12-2-2-13 2-11 7-2-1-7-9-3-2-11 5-7 5-13 4-11 0-47 8-21 3-41 2-11-2-18 0-78 5-15 2-46 10-31 6-35 1-22-4zM942-1l665 0 0 112-26 4-28 9-18 1-19 5-18 2-5-3-8-16-3-4-21-15-11-7-1 0-2 3-5 13-5 7-2-1-7-12-5 0-26 8-12 0-8 9-8 3-2-1-16-14-8-9-9 0-10-9-7 0-14 12-8-4-6-9-4-3-9-1-23 4-15 13-7 4-11 5-10 3-13 2-22-5-15-9-14 2-22 10-6 8-12 7-2 0-4-1-18 9-10 1-22-14-6-5-13-8-15-24-13-2-14 17-5-7-7-6-2 0-2 2-3-10-8-16-10-46-4-8-6-5z"/><path fill="#92d0a6" stroke="#71a587" stroke-width="0.90" d="M-1-1l861 0 0 1-5 15-2 6-7 7-6 3-18 3-25 0-4-1-15 3-11 4-37 22-6 5-8 3-39 10-22 1-14 2-7-3-9-5-14 0-11-6-7-8-11-8-10-11-4-6-6-1-5-4-1 1-4 8-7 5-3-1-3 1-10 16-5 5-3 6-2 9-4 75-1 2-1 0-3-8-1 0-3 29-2 11-6 15-3 6-1 0-3-9-6-60-4-23-7-15-5-16-6-12-7-8-4-9-1-1-3 3-3-9-2-3-14 3-11 7-12-11-11 5-7 7-13 4-11-1-46 9-64 6-29-2-90 7-47 11-32 6-33 0-24-4zM955-1l652 0 0 96-26 5-28 7-18 1-19 5-18 2-5-4-9-15-5-5-18-13-12-7-2 1-6 13-4 6-2-1-6-8-3 0-29 7-11 1-9 7-9 3-23-18-3-1-7-1-11-9-7-2-14 9-9-5-9-10-9-2-23 4-15 13-19 9-23 3-22-5-14-9-13 1-23 9-6 5-13 6-5 0-5 3-13 3-10 2-23-10-18-12-15-19-13-3-14 15-12-16-4-3-11-26z"/><path fill="#9bd3a0" stroke="#78a882" stroke-width="0.90" d="M-1-1l856 0 0 1-4 7-6 6-23 4-26 3-3-1-16 2-22 7-42 20-36 11-35 2-3-1-14-7-14 1-13-7-9-8-6-7-14-19-7-3-5-5-3 8-2 2-8-3-6-7-7 1-7 9-4 11-5 94-1 2-1 0-3-10-1-1-3 33-2 11-2 8-6 14-2 3-3-10-6-60-4-22-2-4-5-7-5-14-5-8-2-3-6-4-5-12-3 3-4-10-1-1-14 4-11 7-2 0-9-8-2 0-9 4-8 8-14 5-10-2-45 9-45 4-24 3-24 0-92 6-46 12-31 5-34-1-24-4zM961-1l646 0 0 81-26 5-28 6-18 1-19 4-18 2-20-24-17-12-14-7-8 15-2 2-8-5-2-1-40 9-19 9-18-13-14-3-10-9-8-4-15 6-9-4-9-11-9-3-23 5-14 13-19 8-24 2-21-5-15-9-13 0-27 9-25 10-23 2-24-5-17-11-14-14-13-5-2 1-13 12-14-23-8-16-4-10z"/><path fill="#a5d699" stroke="#80aa7d" stroke-width="0.90" d="M-1-1l820 0 0 1-23 11-18 2-22 6-26 12-6 5-9 4-37 9-13 1-24 0-7-3-5-5-4-2-14-1-22-13-20-20-7-2-5-3-1 0-4 7-8-2-5-5-9 1-7 7-4 10-4 68-1 2-1 0-3-8-1-1-3 25-2 9-10 25-2-1-1-2-7-55-4-16-6-6-5-10-4-6-9-6-5-9-3 2-4-7-15 3-11 6-12-6-11 4-7 6-12 4-12-1-52 10-47 3-73-3-39 2-20 2-47 13-24 1-5-2-34-2-24-3zM972-1l635 0 0 68-54 12-54 3-3-2-19-21-16-12-14-5-10 13-9-4-14 7-46 14-18-10-14-3-9-7-9-3-15 2-9-5-9-9-10-3-22 5-15 14-9 5-9 3-22 2-5-1-19-4-11-6-5-1-13 1-50 16-23 1-22-4-5-3-14-9-14-13-14-11-14 2z"/><path fill="#aed993" stroke="#88ac78" stroke-width="0.90" d="M-1-1l527 0 0 1-4 4-3 5-4 45-1 2-1-1-3-5-1 0-4 20-5 10-6 19-3 2-2-7-5-33-4-16-6-4-7-8-4-3-7-3-4-5-1-1-3 2-4-6-15 2-11 5-12-3-11 4-8 5-13 2-9 0-19 5-35 7-46 1-22-4-43-4-7-3-15-1-25 1-18 4-51 13-22-1-5-5-58-5zM544-1l10 0 0 1-3 2-7-2zM568-1l232 0 0 1-5 4-17 2-23 5-25 10-6 7-9 4-17 5-21 3-11 1-24-3-7-2-7-8-4-2-13-2-22-10-21-14zM986-1l621 0 0 55-26 7-28 5-35 1-19-1-3-2-17-18-13-10-6-3-13-5-10 10-9-2-15 11-26 10-19 3-18-8-14-2-9-5-8-2-7 0-8-1-9-6-10-8-10-2-5 0-17 5-16 15-8 4-9 3-27 2-18-5-10-4-5-1-14 1-51 14-23 0-22-4-7-3-12-9-13-12-15-17-13-8z"/><path fill="#b9dc8d" stroke="#90af73" stroke-width="0.90" d="M-1-1l520 0 0 1-4 21-2 1-4-3-3 9-5 6-8 28-3 5-10-42-12-5-12-3-4-3-4 1-4-3-15 1-12 4-11 0-18 6-22 2-20 6-35 7-45-1-23-7-24-3-20-4-7-4-13-2-27 1-67 19-23-4-5-8-28-4-30-1zM585-1l182 0 0 1-12 2-25 10-6 9-8 3-17 4-33 4-24-5-7-2-7-10-17-6-13-6-13-3zM1002-1l605 0 0 43-26 8-29 4-18 1-35-5-3-2-17-16-13-11-19-6-10 6-9 0-14 15-25 11-4 1-17 0-18-5-14-2-18-5-6 0-9-5-15-11-4-1-12-2-19 6-15 14-8 6-3 1-34 4-18-5-10-4-4 0-65 13-7 1-18-2-21-3-6-2-27-23z"/><path fill="#c5de88" stroke="#99b16f" stroke-width="0.90" d="M-1-1l499 0 0 1-7 33-1 3-1 0-4-10-4-19-2-2-17 2-33 0-38 9-25 2-21 7-35 8-45-4-21-10-26-4-19-6-6-5-13-3-28 0-67 21-23-6-5-12-28-4-30 0zM625-1l110 0 0 1-6 2-5 10-2 2-22 6-34 2-31-8-5-11-5-3zM1010-1l597 0 0 30-4 0-23 9-39 4-8 0-35-9-32-27-19-5-18 5-15 18-28 14-72-9-24-18-19-3-19 7-24 21-35 4-29-9-27 7-46 7-47-8-26-22z"/><path fill="#d6d97d" stroke="#a4b068" stroke-width="0.90" d="M255-1l86 0 0 1-6 10-13 6-3 1-24 2-23-3-11-7zM374-1l7 0-1 5-2 3-3-3zM485-1l8 0-2 9-2 3-2-3zM1065-1l72 0 0 1-9 17-15 10-19-3-26-18zM1168-1l61 0 0 1-2 8-7 14-14 4-18-2-13-8-3-7zM1297-1l119 0 0 1-3 4-8 4-12-4-2 1-9 15-11 8-7-18-2-2-23-2-5 15-1 1-7-15-18 3-8-4zM1501-1l26 0 0 1-1 5-2 1-12 2-9-4z"/></g><path transform="scale(0.2500)" fill="none" stroke="#000" stroke-width="6.20" stroke-linejoin="round" stroke-linecap="butt" d="M6823 965l-30-17-4-1-26 10-64 54-46 5-34 13-8 0-12-3-3-2-19-43-34-68-4-6-10-9-4 3-14 25-12 62-12 17-4-1-10-12-12-51-10-7-2 0-14 26-26 22-2 0-10-7-12 3-4 2-12 50-12 24-4 1-30-6-4 2-12 23-12 38-4 7-12-23-10-39-4-6-20-8-30 10-14 1M6125 1080l-25 18-5 6-10 18-15 46-21 30-12 24-32 5-38-9-22-22-12-28-12 15-16 9-15 38M4561 1230l-12-48-31-148-6-17-11-15-31 5-18 13-4-2-16-17-18-3-50 20-4-2-10-13-4-2-116 21-72-14-52-3-12-4M4028 968l-12-6-46-15-56-5-54 12-138 37-52 8-36-21-24-13M5062 1230l-8-12M5012 1158l-24-40-20-24-30-28-26-12-68 27-24-14-22-19-22 18-24 33-18 5-12 15-4 10-26 101M5373 1230l-7-240-6-141-4-54-8-48-2 0-2 6-15 58-13 22-4 4-2 0-8-23-7 53M5291 907l-3 22-2 4-11-16M5243 849l-25-45-18-18-36 31-18 36-10 54-4 45-6 109-5 139-2 30M5474 1230l-10-146M5455 1010l-19-117-2-5-6 9-2 1-8-29-2 3-6 36-4 44-17 278M5625 1230l-11-33-4-8-22 16-18-7-22 28-2-4-8-41-2-3-12 45-2 0 0-1-10-26-2-2-5 36M5403 125l-5 12-40 65-14 33-6 18-18 77-2 3-16 13-14 25-4 2-38-5-46-22-35 11-21 14-30 64-44 40-10 25-4 5-26 4-92-11-20 3-18 15-14 4-12-4-18-15-14 3-18-8-14-15-12-28-4-4-10 1-10 20-18 11-3-4-9-27-10 17-10-2-8 6-4 14-12 71-4 10-2 11-26 223-2 7-10-7-4 0-16 13-18 43-14 17-4 0-8-5-2-8-16-157-26-144-2-6-2 1-2-5-8-42-8-27-2-3-8-5-8 11-2 0-10-38-4-8-24-2-22 14-4-4-16-29-76 14M4214 452l-14 2-80-7-22-12-102-2-92 8-182 38-64 9-48-4M6823 479l-50 5-50 21M6582 483l-5-13-22-5-44-35-2 2-2 8-12 54-2 4-3 1-7 2-2-2-14-50-2-3-10-3-4 1-20 12-26 9-4-1-20-11-4 7-12 32-16 1-4-3-34-39-14-42-2-2-2 1-12 9-4 1-18-16-14 10-28 47-16-7-10-20-4-3-60 8-28 10-30 28-38 28-26 4-44-9-30-18-32 12-7 3-33 30-12 38-24 25-2 1-2-2-8-17-2 0-34 42-18 5-4-3-26-42-26-39-4-4-22-11-3-3-9-22-20-67-21 5-6 4-28 48-10-11-14 13-2 6-6 37-8-42-14-15-3-10-19-136-10-52-44-87-37-31-10-30M5319 125l-5 11-14 15-46 9-52 5-6-2-32 4-44 14-74 37-12 5M4898 247l-10-1-28-15-28 2-26-15-18-15-12-14-28-38-4-3-10-3-10-9-6 15-4 4-16-6-12-13-12 1-4 3-12 14-8 24-10 188-2 4-2-1-6-20-2-1-6 64-4 24-4 15-12 29-4 5-6-19-12-121-4-27-4-16-4-9-10-14-10-27-10-17-4-6-12-9-10-23-6 6-8-21-2-1-28 8-22 15-4-1-20-17-20 9-16 16-26 9-22-3-92 18-88 8-48 7-48-2-184 14-92 23-66 11-64-2-46-9M6721 307l-40 1-38 9-36 4-39-46-35-26-26-13-4 2-14 27-4 5-16-11-4-1-80 18-38 18-36-27-28-5-20-19-16-8-4 1-26 11-18-9-18-21-18-5-46 9-28 27-38 14-48 5-42-9-30-18-26-1-56 18-48 19-48 5-46-11-34-21-28-27-26-10-5 1-26 24-28-45-16-32-12-35M4292 125l-10 19-10 6M4134 145l-14-20M4372 125l-4 12-2 2-6-7-3-7M4595 125l-3 16-4 7-4-6-5-17M5884 125l-17 34-28 19-36-4-15-9M6068 125l-5 16-12 28-28 9-36-4-26-17-5-8-9-24M6441 125l-4 9-16 7-24-7-4 1-18 29-22 17-4-7-10-28-4-4-46-4-2 3-8 26-2 2-14-31-36 8-16-8-6-13M6665 125l-3 10-3 3-24 3-18-8-4-8"/><text transform="translate(1051.0,39.0) rotate(-5.0) scale(0.950,1)" text-anchor="middle" y="9.6" class="c">20</text><text transform="translate(1070.0,107.0) rotate(-12.0) scale(0.950,1)" text-anchor="middle" y="9.6" class="c">10</text><text transform="translate(1017.0,241.0) rotate(20.0) scale(0.950,1)" text-anchor="middle" y="9.6" class="c">5</text><text transform="translate(1241.0,56.0) rotate(-8.0) scale(0.950,1)" text-anchor="middle" y="9.6" class="c">15</text><text transform="translate(1259.5,296.0) rotate(55.0) scale(0.950,1)" text-anchor="middle" y="9.6" class="c">5</text><text transform="translate(1430.0,37.0) rotate(25.0) scale(0.950,1)" text-anchor="middle" y="9.6" class="c">20</text><text transform="translate(1315.5,220.5) rotate(58.0) scale(0.950,1)" text-anchor="middle" y="9.6" class="c">5</text><text transform="translate(1368.4,261.0) rotate(82.0) scale(0.950,1)" text-anchor="middle" y="9.6" class="c">5</text><text transform="translate(1541.0,263.0) rotate(5.0) scale(0.950,1)" text-anchor="middle" y="9.6" class="c">5</text><text transform="translate(1663.0,126.0) rotate(-15.0) scale(0.950,1)" text-anchor="middle" y="9.6" class="c">10</text><text transform="translate(1697.0,72.0) rotate(-8.0) scale(0.950,1)" text-anchor="middle" y="9.6" class="c">15</text></g>
<g clip-path="url(#cE)"><rect x="902.5" y="362.6" width="803.2" height="275.7" fill="#4a75bd"/><g transform="translate(902.50,362.60) scale(0.5000)" fill-rule="evenodd"><path fill="#4383c8" stroke="#38639c" stroke-width="0.90" d="M-1-1l1608 0 0 553-812 0-1-4 0 4-795 0z"/><path fill="#3a95d3" stroke="#3270a4" stroke-width="0.90" d="M-1-1l1608 0 0 542-2 0-5-9-2-2-17 3-27 17-1 2-64 0-21-44-9-13-2 1-7 10-12 23-2-1-8-14-8-17-1-2-1 0-21 20-9 5-2 6-4 26-504 0-3-89-3-48-1-10-1-1-19 82-1 0 0-1-5-13-1-1-5 81-16 0-6-45-12-67-2-8-10-21-2 2-9 15-9 34-9 90-566 0 0-1-3-1-48-13-38 13-2 1 0 1-90 0-1-2-14-17-3-2z"/><path fill="#28a9e2" stroke="#277faf" stroke-width="0.90" d="M-1-1l1608 0 0 420-2 0-14-8-2 0-13 4-32 27-23 3-17 6-4 0-7-2-27-55-6-7-2-1-8 14-6 31-6 8-2 0-5-6-6-25-6-4-7 13-13 11-1 0-5-4-8 3-5 25-7 12-2 0-15-3-2 1-6 12-6 18-2 4-6-11-5-20-1-2-3-2-8-3-16 5-23 3-18 9-17 12-6 11-8 24-10 14-6 11-16 3-19-4-11-11-6-15-6 8-8 5-7 19-132 0-6-17-2-4-11 8-9-4-11 14-1-2-4-20-1-1-6 22-1-1-6-13-3 18-15 0-7-94-12-75-1-2-4 5-4-14-1 1-3 18-2 22-8 139-9 0-3-120-3-70-2-27-4-25-1 0-1 4-7 29-7 11-2 2-1-1-4-11-6 54-2 5-6-9-10-23-9-15-9-17-8-9-2 0-17 15-7 14-3 8-5 33-8 152-28 0 0-2-13-19-15-19-7-14-3-3-9-11-13-13-14-7-35 13-12-7-10-9-2 0-10 9-12 16-9 3-6 7-3 9-12 47-66 0-6-25-15-73-3-9-6-8-15 3-9 7-2-1-8-9-9-1-25 10-7-8-2-1-59 11-36-8-26-1-21-8-23-13-23-8-27-2-28 6-69 18-26 4-18-10-13-7z"/><path fill="#1fbce9" stroke="#1c8fb8" stroke-width="0.90" d="M-1-1l1608 0 0 331-27 6-17 11-19 13-50 14-2-2-10-23-12-16-12-10-2-1-17 39-2 3-5-3-2-2-10-22-1-1-1 0-22 20-14 5-14 18-18 5-9 12-2-1-5-6-7-20-2-1-8 2-23 13-19 3-23 12-13 18-10 23-14 18-17 7-2 0-22-7-14-13-16 12-3 3-13 22-10 27-23 19-23 13-29-30-17-20-14-28-13-13-2 1-18 27-9 10-2 1-11-31-30-121-12-44-15-47-1-2-1 0-12 26-3 3-2-2-12-32-14 48-16 32-2-1-24-21-18-14-14 0-8 8-2 5-10 44-8 51-9 19-9 7-9 13-2 0-7-6-42-34-23-11-34 10-13 0-11-6-21 16-16 13-9 23-9 39-8 44-9 6-14 18-9 6-7-5-7-16-7-36-7-47-9-45-9-32-6-16-2-3-13 0-9 6-7-10-2-1-12-2-25 8-8-8-23 7-37 4-56-12-59-20-41-5-44 8-45 13-36 9-29-4z"/><path fill="#3dc2de" stroke="#2599b6" stroke-width="0.90" d="M-1-1l1608 0 0 285-26 3-38 18-27 9-22 5-2-3-9-21-13-13-14-11-9 11-8 23-2 4-5-3-2-2-10-22-2-2-22 15-11-3-8 23-27-19-9 10-2 0-5-6-6-14-2-3-32 29-19 5-23 12-13 17-10 24-14 18-17 7-2 0-22-7-13-15-2 0-16 14-3 4-12 20-10 28-23 14-22 11-2-2-44-54-15-34-13-13-2 1-15 11-2 2-8 34-2 4-12-36-15-48-14-42-14-51-15-47-1-2-1 1-15 37-2-3-12-31-2 4-12 40-16 23-2 0-23-8-19-18-12 5-3 2-7 9-2 5-8 19-9 33-9 19-2 3-8 6-8 13-2 2-49-19-24-8-33 14-13-4-11-11-2 0-34 22-9 10-7 19-14 92-1 2-11 6-13 11-11 7-2-2-4-14-7-40-18-91-14-54-3-8-13-2-9 6-8-9-13-7-24 7-2-1-6-5-2-1-24 5-36 4-54-7-29-9-32-7-42 3-40 9-46 13-37 10-29-2z"/><path fill="#52c4d2" stroke="#399cad" stroke-width="0.90" d="M-1-1l1608 0 0 244-26 4-19 10-18 6-28 7-22 5-2-3-9-25-13-11-13-9-2 0-8 9-8 25-2 3-18-30-23 11-11-6-2 4-5 16-2 1-8-4-17-15-8-17-1-1-1 1-7 8-1 0-5-11-2-3-9 9-18 22-6-7-2-1-15 8-23 7-11 10-4 4-9 22-12 18-3 2-17 7-22-5-15-17-18 26-13 21-11 25-23 10-21 13-2 0-45-58-15-42-13-12-2 1-17 20-8 37-2 2-1-1-13-27-13-38-13-36-15-53-15-43-1-1-1 0-15 37-2-3-12-30-2 4-12 40-16 18-25-6-19-16-15 11-7 6-3 5-7 14-19 44-9 8-10 15-27-4-23-7-22-2-34 9-14-5-11-13-16 13-18 12-9 7-4 5-6 20-12 87-3 11-9 9-22 15-2-3-6-15-7-41-18-90-15-52-1-2-2-2-12-4-9 4-8-7-13-6-25 6-7-6-2 0-60 6-54-4-28-7-33-7-41 5-88 20-36 7-29-2z"/><path fill="#65c7c8" stroke="#499ea4" stroke-width="0.90" d="M-1-1l1608 0 0 207-26 4-18 7-19 9-28 5-22 9-2-5-9-40-26-14-2 0-4 2-4 3-8 27-2 3-18-32-23 10-11-6-8 19-9-6-18-18-7-15-1 0-8 7-1-1-7-11-8 6-19 18-8-8-16 6-22 5-14 14-10 18-12 17-3 2-18 6-22-7-14-11-18 20-13 17-11 29-23 10-21 13-2 0-27-31-18-22-13-31-3-3-13-4-17 17-2 5-8 25-1 1-1-1-12-20-14-28-14-38-13-44-16-41-2-1-2 0-26 4-2 4-13 37-16 21-2 0-23-6-19-14-14 7-10 9-8 11-19 35-19 25-27-2-24-4-22-2-33 8-14-4-11-13-2 1-15 15-21 13-8 7-6 22-12 88-4 19-9 8-22 15-2-3-5-15-8-47-17-80-16-53-1-3-2-2-12-4-9 4-8-7-13-6-25 6-7-6-2 0-59 6-55-4-28-7-32-5-42 5-87 21-37 6-29-2z"/><path fill="#6fc9be" stroke="#55a09c" stroke-width="0.90" d="M-1-1l897 0 0 1-2 6-20 32-7 17-3 9-9 38-9 8-7 13-2 1-19-3-23-11-18 6-10 7-15 32-22 20-5 12-2 3-13 2-46-6-10 2-9 7-7 2-6-2-9-7-7 1-9-4-7-7-6-15-2-2-5 1-5 10-9 6-1-2-5-14-5 9-5-1-4 3-2 7-6 35-3 11-13 111-1 3-5-3-2 0-8 6-10 23-5 7-2 1-5-3-1-4-7-71-14-79-1-3-1 0-1-2-4-21-4-14-1-1-4-3-5 6-5-19-2-4-12-1-11 7-2-2-7-14-2-1-11 3-8 0-53 10-39 6-41-3-11-6-51-1-46 4-91 19-32 4-25-2zM901-1l706 0 0 178-26 2-28 12-59 13-2-3-7-25-2-4-11-3-22-17-2 5-6 27-2 3-4 1-1-2-7-24-1-2-5-1-12 6-13 4-2 0-10-5-2 3-6 16-8 1-19-21-7-21-1-1-1 0-6 5-2 0-9-8-7 5-14 24-8-4-5-10-2-1-30 4-14 5-15 14-19 14-13 2-22-5-15-9-16 6-3 2-17 15-6 19-12 12-1 0-1 0-4-9-1 0-17 21-9 3-2-2-26-40-14-9-15-45-13 4-14 24-5-5-7 7-1 3-3 18-4-21-7-7-1-5-10-68-5-26-22-44-18-15z"/><path fill="#78cbb6" stroke="#5ca295" stroke-width="0.90" d="M-1-1l891 0 0 1-16 20-9 16-11 41-8 8-7 10-2 0-19-1-23-7-18 4-10 6-16 26-21 17-7 12-13 3-23 0-21-2-10 1-11 6-7 1-6-2-9-6-7 1-9-4-7-6-6-12-2-2-5-1-5 6-9 1-1-1-5-12-5 6-4-2-2 0-4 6-6 27-4 10-13 83-1 2-5-2-3 3-5 28-5 4-1 2-5 22-6 9-3 2-3-2-2-6-7-71-14-68-3-5-4-17-4-10-6-6-4 4-6-19-13 0-11 7-2-2-7-12-3-1-32 9-9 1-69 11-41-1-12-4-50-1-46 4-93 19-31 3-24-3zM905-1l702 0 0 153-26 3-28 10-57 11-2-1-1-1-10-26-11-4-22-17-2 3-6 24-4 3-2 1-1-1-7-20-6-2-12 5-13 4-12-3-8 15-8 2-2-1-17-18-7-16-2-1-7 3-10-8-7 3-14 19-8-3-5-9-2-2-12 0-18 2-5 2-9 4-15 13-19 12-13 1-22-4-15-9-15 4-4 2-17 12-6 15-12 10-2 0-3-5-1-1-1 0-17 17-9 2-2-1-26-32-14-9-4-10-9-24-2-3-13 2-14 21-5-5-8 2-3 13-3-15-7-10-2-6-9-56-5-21-22-33-18-11z"/><path fill="#81ccb0" stroke="#64a38f" stroke-width="0.90" d="M-1-1l880 0 0 1-6 6-8 10-11 39-15 16-21 1-24-5-16 3-11 5-16 20-21 15-6 9-9 3-27 3-33 1-10 5-6 1-7-3-8-6-9 1-7-2-8-7-6-9-2-2-5-2-5 2-9-3-6-11-5 3-5-2-1 0-5 9-5 16-3 4-2 5-12 56-1 1-5 1-3 5-5 48-2 1-3-1-1 1-3 20-2 10-7 12-3 2-3-6-1-5-5-54-3-22-13-51-3-5-3-11-4-10-7-9-4 4-4-13-2-4-13 1-11 7-2-1-7-11-3-1-11 4-7 4-13 3-11 1-44 8-24 3-41 0-11-3-17 0-34 1-45 3-13 2-47 11-33 6-32 2-24-3zM924-1l683 0 0 131-26 4-28 9-18 2-37 8-5-3-10-22-11-6-22-16-1 1-2 4-5 16-5 5-2-1-7-15-6-1-13 5-12 3-12-1-8 12-8 2-2-1-17-16-7-12-1 0-8 1-10-8-7 1-14 15-8-4-7-9-4-2-8 0-23 4-9 6-6 5-9 6-9 5-10 5-13 1-22-4-15-9-14 2-5 2-17 11-6 11-12 8-2 1-4-4-18 12-9 2-2-1-27-25-13-8-15-30-13 0-14 19-5-7-7-2-2 2-2 5-3-12-6-11-2-5-10-50-4-13-2-4-22-23z"/><path fill="#88cdab" stroke="#6aa48b" stroke-width="0.90" d="M-1-1l865 0 0 1-10 35-7 8-8 6-21 2-25-2-16 3-10 4-16 15-22 14-5 6-14 4-32 6-23 0-10 3-6 1-15-8-9 1-6-2-9-6-7-9-6-4-5-1-9-7-6-9-5 2-5-4-1 1-10 18-4 2-2 4-11 32-6 5-3 6-5 66-2 2-3-5-1 1-3 24-2 11-6 14-4 4-3-7-1-6-6-63-4-19-6-17-5-18-3-5-4-11-6-8-4-8-1 0-3 3-4-12-2-2-13 2-11 7-2-1-7-9-3-2-11 5-7 5-13 4-11-1-47 9-21 3-41 2-11-2-18 0-78 5-15 1-46 11-31 6-35 1-22-4zM942-1l665 0 0 112-26 4-28 9-18 1-19 4-18 3-5-3-8-16-3-4-21-15-11-7-1 0-2 3-5 13-5 7-2-1-7-12-5 0-26 7-12 1-8 9-8 2-2 0-16-14-8-9-9-1-10-8-7-1-14 12-8-3-6-9-4-3-9-1-23 4-15 12-7 5-11 5-10 3-13 2-22-5-15-9-14 2-22 10-6 8-12 7-2 0-4-1-18 9-10 1-22-14-6-5-13-8-15-24-13-2-14 17-5-7-7-6-2 0-2 2-3-10-8-16-10-46-4-8-6-5z"/><path fill="#92d0a6" stroke="#71a587" stroke-width="0.90" d="M-1-1l861 0 0 1-5 15-2 6-7 7-6 3-18 3-25 0-4-1-15 3-11 4-37 22-6 5-8 3-39 9-22 2-14 2-7-3-9-5-14 0-11-7-7-7-11-8-10-11-4-6-6-1-5-4-1 1-4 8-7 5-3-1-3 0-10 17-5 5-3 6-2 9-4 75-1 2-1-1-3-7-1 0-3 29-2 10-6 16-3 6-1 0-3-9-6-60-4-23-7-15-5-17-6-11-7-8-4-9-1-1-3 3-3-9-2-3-14 3-11 7-12-11-11 5-7 7-13 4-11-1-46 9-64 6-29-2-90 7-47 11-32 6-33 0-24-4zM955-1l652 0 0 96-26 5-28 7-18 1-19 4-18 3-5-5-9-14-5-5-18-13-12-7-2 1-6 13-4 6-2-1-6-8-3 0-29 7-11 1-9 7-9 3-23-18-3-1-7-1-11-9-7-2-14 9-9-5-9-10-9-2-23 4-15 13-19 9-23 3-22-5-14-9-13 1-23 9-6 5-13 6-5 0-5 3-13 3-10 1-23-9-18-12-15-19-13-3-14 15-12-16-4-3-11-26z"/><path fill="#9bd3a0" stroke="#78a882" stroke-width="0.90" d="M-1-1l856 0 0 1-4 7-6 6-23 4-26 3-3-1-16 2-22 7-42 20-36 11-35 2-3-1-14-7-14 1-13-8-9-7-6-7-14-19-7-3-5-5-3 8-2 2-8-3-6-7-7 1-7 9-4 11-5 94-1 2-1 0-3-10-1-1-3 32-2 12-2 8-6 14-2 3-3-10-6-60-4-22-2-4-5-7-5-14-5-8-2-3-6-5-5-11-3 3-4-10-1-1-14 4-11 7-2 0-9-8-2 0-9 4-8 8-14 5-10-2-45 9-45 4-24 3-24-1-92 7-46 12-31 5-34-1-24-4zM961-1l646 0 0 81-26 4-28 7-18 0-19 5-18 2-20-24-17-12-14-7-8 15-2 2-8-5-2-1-40 9-19 9-18-13-14-3-10-9-8-4-15 6-9-5-9-10-9-3-23 5-14 13-19 7-24 3-21-5-15-9-13 0-27 9-25 9-23 3-24-6-17-10-14-14-13-5-2 1-13 12-14-23-8-16-4-10z"/><path fill="#a5d699" stroke="#80aa7d" stroke-width="0.90" d="M-1-1l820 0 0 1-23 11-18 2-22 6-26 12-6 5-9 4-37 9-13 1-24 0-7-4-5-4-4-2-14-1-22-13-20-20-7-2-5-3-1 0-4 7-8-2-5-5-9 1-7 7-4 10-4 68-1 2-1 0-3-8-1-1-3 25-2 9-10 25-2-1-1-3-7-54-4-16-6-6-5-10-4-6-9-6-5-9-3 2-4-7-15 3-11 6-12-6-11 4-7 6-12 3-12 0-52 10-47 3-73-3-39 2-20 2-47 13-24 1-5-2-34-2-24-3zM972-1l635 0 0 68-54 12-54 3-3-2-19-21-16-12-14-5-10 13-9-4-14 7-46 14-18-10-14-3-9-7-9-3-15 2-9-5-9-9-10-3-22 5-15 14-9 5-9 2-22 3-5-1-19-4-11-6-5-1-13 1-50 15-23 2-22-4-5-3-14-9-14-13-14-11-14 2z"/><path fill="#aed993" stroke="#88ac78" stroke-width="0.90" d="M-1-1l527 0 0 1-4 4-3 5-4 45-1 2-1-1-3-5-1 0-4 19-5 11-6 18-3 3-2-7-5-33-4-16-6-4-7-8-4-3-7-3-4-5-1-1-3 1-4-5-15 2-11 5-12-3-11 4-8 5-13 2-9 0-19 5-35 7-46 1-22-4-43-4-7-3-15-1-25 1-18 4-51 13-22-1-5-5-58-5zM544-1l10 0 0 1-3 2-7-2zM568-1l232 0 0 1-5 4-17 2-23 5-25 10-6 7-9 4-17 5-21 3-11 1-24-3-7-2-7-8-4-2-13-2-22-10-21-14zM986-1l621 0 0 55-26 7-28 5-35 1-19-1-3-2-17-18-13-10-6-3-13-5-10 10-9-2-15 11-26 10-19 3-18-8-14-2-9-5-8-2-7 0-8-2-9-5-10-8-10-2-5 0-17 5-16 15-8 4-9 3-27 2-18-5-10-4-5-1-14 1-51 14-23 0-22-4-7-3-12-9-13-12-15-17-13-8z"/><path fill="#b9dc8d" stroke="#90af73" stroke-width="0.90" d="M-1-1l520 0 0 1-4 21-2 1-4-3-3 8-5 7-8 28-3 5-10-42-12-5-12-3-4-3-4 1-4-3-15 1-12 4-11 0-18 6-22 2-20 6-35 7-45-1-23-7-24-3-20-4-7-4-13-2-27 1-67 19-23-4-5-8-28-4-30-1zM585-1l182 0 0 1-12 2-25 10-6 9-8 3-17 4-33 4-24-5-7-2-7-10-17-6-13-6-13-3zM1002-1l605 0 0 43-26 8-29 4-18 1-35-5-3-2-17-16-13-11-19-6-10 6-9 0-14 15-25 10-4 2-17 0-18-5-14-2-18-5-6 0-9-5-15-11-4-1-12-2-19 6-15 14-8 6-3 1-34 4-18-5-10-4-4-1-65 14-7 1-18-2-21-3-6-2-27-23z"/><path fill="#c5de88" stroke="#99b16f" stroke-width="0.90" d="M-1-1l499 0 0 1-7 33-1 3-1 0-4-10-4-19-2-2-17 2-33 0-38 9-25 2-21 7-35 7-45-3-21-10-26-4-19-6-6-5-13-3-28 0-67 21-23-6-5-12-28-4-30 0zM625-1l110 0 0 1-6 2-5 10-2 2-22 6-34 2-31-8-5-11-5-3zM1010-1l597 0 0 30-4 0-23 9-39 4-8 0-35-9-32-27-19-5-18 5-15 18-28 14-72-9-24-18-19-3-19 7-24 21-35 4-29-9-27 7-46 7-47-8-26-22z"/><path fill="#d6d97d" stroke="#a4b068" stroke-width="0.90" d="M255-1l86 0 0 1-6 10-13 6-3 1-24 2-23-3-11-7zM374-1l7 0-1 5-2 3-3-3zM485-1l8 0-2 9-2 3-2-3zM1065-1l72 0 0 1-9 17-15 9-19-2-26-18zM1168-1l61 0 0 1-2 8-7 14-14 4-18-2-13-8-3-7zM1297-1l119 0 0 1-3 4-8 4-12-4-2 1-9 15-11 8-7-18-2-2-23-2-5 15-1 1-7-15-18 3-8-4zM1501-1l26 0 0 1-1 5-2 1-12 2-9-4z"/></g><path transform="scale(0.2500)" fill="none" stroke="#000" stroke-width="6.20" stroke-linejoin="round" stroke-linecap="butt" d="M6823 2289l-30-17-4 0-26 9-64 54-46 5-34 13-8 0-12-3-3-3-19-42-34-68-4-5-10-10-4 3-14 25-12 62-12 17-4-1-10-12-12-51-10-7-2 0-14 26-26 22-2 0-10-7-12 3-4 2-12 49-12 25-4 1-30-6-4 1-12 24-12 37-4 8-12-23-10-39-4-6-20-8-30 9-16 3M6123 2405l-23 16-5 7-10 17-15 46-21 31-12 23-32 5-38-8-22-22-12-29-12 16-16 9-15 37M4561 2553l-12-48-31-147-6-17-11-16-31 6-18 12-4-1-16-17-18-3-50 20-4-3-10-12-4-2-116 21-74-15-48-2M4040 2299l-20-12-48-16-58-5-54 12-138 37-52 8-36-22-24-12M5062 2553l-28-41-28-38-16-30-21-25M4908 2379l-64 25-24-13-20-18-2-1-3 1-19 17-24 32-18 6-12 15-4 10-26 100M5373 2553l-7-240-6-139-4-54-8-49-2 0-2 7-15 58-13 22-4 3-2 0-8-23-7 54M5291 2232l-3 21-2 4-11-15M5244 2176l-9-14-17-34-18-18-36 31-18 36-10 54-4 45-6 109-5 138-2 30M5474 2553l-10-145-4-42M5449 2293l-13-76-2-5-6 9-2 1-8-28-2 2-6 36-5 67M5401 2357l-12 196M5625 2553l-11-33-4-7-22 16-18-8-22 28-2-4-8-41-2-2-12 45-2 0 0-2-10-26-2-2-5 36M5403 1450l-5 12-40 65-14 33-6 18-18 76-2 4-16 13-14 25-4 2-38-5-46-22-35 11-21 14-30 64-44 40-10 25-4 5-26 4-92-11-20 3-18 14-14 4-12-4-18-14-14 3-18-9-14-14-12-29-4-4-10 1-10 21-18 11-3-4-9-27-10 17-10-2-8 6-4 14-12 70-4 10-2 12-26 223-2 6-10-7-4 0-16 13-18 43-14 18-4-1-8-5-2-8-14-142-28-159-2-5-2 1-2-6-8-41-8-27-2-3-8-5-8 10-2 1-10-39-4-7-24-2-22 14-4-4-14-28-4-2-22 6-16 1-28 6-78 14-78 12-82-7-22-12-98-2-94 7-66 14M3704 1806l-48 7-46-4M6823 1804l-50 5-60 24M6585 1818l-8-23-22-6-44-34-2 2-2 7-12 55-2 4-3 1-7 2-2-3-14-49-2-3-10-3-4 1-20 11-26 9-4 0-20-11-4 6-12 33-16 0-4-2-34-39-14-42-2-2-2 1-12 9-4 1-18-16-14 9-28 48-16-7-10-21-4-2-60 8-28 9-30 29-38 28-26 4-44-9-30-18-32 11-7 4-33 30-12 38-24 24-2 1-2-1-8-17-2 0-34 42-18 5-4-3-26-43-26-39-4-3-22-11-3-3-9-22-20-68-21 6-6 3-28 48-10-10-14 13-2 6-6 36-8-41-14-15-3-10-19-136-10-52-44-87-37-31-10-30M5319 1450l-5 11-14 15M5164 1492l-44 14-78 39-14 5-64 18-72 4-32-16-28 2-26-15-18-15-12-14-28-38-4-3-10-3-10-9-6 15-4 4-16-6-12-13-14 2-14 17-8 23-10 188-2 4-2-1-6-20-2-1-6 64-4 24-4 15-12 28-4 6-6-19-12-122-4-26-4-16-4-9-10-14-10-27-10-17-4-6-12-9-10-23-6 6-8-21-2-1-28 8-22 15-4-1-20-17-20 9-16 16-26 9-22-3-92 18-88 8-48 7-48-2-184 14-92 23-66 11-64-2-46-9M6823 1610l-52 10-54 13-36 0-38 9-34 5-6-4-36-44-34-25-26-13-4 2-14 27-4 5-16-11-4-1-80 18-38 18-36-27-28-5-20-19-16-8-4 1-26 11-18-9-18-21-18-5-46 9-28 27-40 15-46 4-42-9-32-19-24 0-20 6M5751 1605l-44-10-34-21-28-27-26-10-5 1-26 24-28-45-16-32-12-35M4292 1450l-11 20-17 8M4124 1457l-4-7M4372 1450l-4 12-2 2-6-6-3-8M4595 1450l-3 17-4 6-4-6-5-17M5884 1450l-17 34-28 19-36-4-15-9M6068 1450l-5 16-12 28-28 9-36-4-26-17-5-8-9-24M6441 1450l-4 9-16 7-24-7-4 1-18 30-22 16-4-7-10-28-4-4-46-4-2 3-8 27-2 1-14-31-36 8-16-8-6-13M6665 1450l-3 10-3 3-24 4-18-9-4-8"/><text transform="translate(1048.8,369.3) rotate(-5.0) scale(0.950,1)" text-anchor="middle" y="9.6" class="c">20</text><text transform="translate(1308.0,370.3) rotate(-12.0) scale(0.950,1)" text-anchor="middle" y="9.6" class="c">15</text><text transform="translate(1454.3,397.0) rotate(-8.0) scale(0.950,1)" text-anchor="middle" y="9.6" class="c">15</text><text transform="translate(943.0,447.4) rotate(-5.0) scale(0.950,1)" text-anchor="middle" y="9.6" class="c">10</text><text transform="translate(1660.9,460.0) rotate(-15.0) scale(0.950,1)" text-anchor="middle" y="9.6" class="c">10</text><text transform="translate(1018.5,578.4) rotate(20.0) scale(0.950,1)" text-anchor="middle" y="9.6" class="c">5</text><text transform="translate(1235.0,599.5) rotate(30.0) scale(0.950,1)" text-anchor="middle" y="9.6" class="c">5</text><text transform="translate(1540.0,599.5) rotate(5.0) scale(0.950,1)" text-anchor="middle" y="9.6" class="c">5</text><text transform="translate(1430.0,368.3) rotate(25.0) scale(0.950,1)" text-anchor="middle" y="9.6" class="c">20</text><text transform="translate(1315.5,551.8) rotate(58.0) scale(0.950,1)" text-anchor="middle" y="9.6" class="c">5</text><text transform="translate(1358.5,583.3) rotate(82.0) scale(0.950,1)" text-anchor="middle" y="9.6" class="c">5</text></g>
<g clip-path="url(#cC)"><rect x="81.5" y="693.7" width="804.0" height="275.8" fill="#c2c0e2"/><g transform="scale(0.5)" stroke="#c79aa9" stroke-width="0.9" stroke-linejoin="round"><defs><path id="pkC" d="M165 1391l2-2 3 6 2 7 1 56-1 8-3 11-1 5-2 2-1-2zM200 1399l4-2 1 6-2 4zM212 1403l5-2 1 7-3 4zM205 1443l2-5 4-4 2 2 1 13 2 8 5 16 1 7 1 16-1 7-2 9-3 3-3-1-3-4-4-16-3-8-3-13 0-7 1-9 2-7zM267 1387l-4 4-1 7 0 8 3 11 1 8 3 10 0 8-3 16 0 7 2 39 0 8 3 38 1 8 2 29 1 8 2 11 1 0 3-16 1-8 4-24 1-8 2-38 0-8-1-39-1-7-2-16 0-8 1-15 1-8 1-10 0-7-1-6-5-2zM323 1387l-4 4-1 12 0 8 3 24 1 8-1 62 0 8 2 61 1 8 2 38 0 8 4 39 1 7 1 8 2 1 2-5 2-7 3-20 2-7 5-39 1-8 4-38 1-8 2-61 0-8 0-53 1-7 3-16 0-8-1-7-5-4zM398 1387l-4 4-1 67 0 8 1 85 0 8 1 84 0 8 2 62 1 8 4 15 3 5 2 3 2-1 3-5 1-7 3-33 0-8 2-62 1-8 4-61 0-8 2-61 0-8 2-39 0-8-2-24 0-8-1-12-4-4zM457 1387l-4 4-1 21 0 8 1 39 0 7 1 39 0 8 1 38 0 8 1 15 2 1 3-7 1-8 2-47 0-8 0-34 2-4 2-2 1 4 0 36 0 8 1 38 0 8 1 24 2 6 2 4 3 0 3-4 3-5 5-11 1-8 4-29 1-8 2-38 0-8 2-39 1-8 1-10 1-8 1-15 4-5 5-3 5-2 2-4-3-1zM524 1387l-3 4 3 12 1 8 1 11 3 1 3-4 3-4 2-2 2-5 3-11 2-5 1-4-4-1zM504 1402l4-1 3 20-5 1zM505 1453l3 0 0 60-3 0zM552 1387l-4 4 0 67 0 8 2 62 0 8 2 22 1 0 3-27 0-8 3-57 1-7 1-39 2-5 2-4 2 2 3 13 2 5 2 1 2-4 1-8 2-4 2-1 2 3 2 31 1 8 2 11 3 5 2 2 2-2 2-7 3-7 4-16 2-7 2-5-1-7-2-9-3-7-2-11-2-5-1-4-5-1zM594 1522l1-6 2-5 2 2 3 15 1 8-1 15-1 5-1 2-2-2-2-7-1-7zM629 1387l-3 4 0 44 0 8 1 48 1 0 2-7 3-4 5-1 3-4 3-13 3-4 5 2 4-2 5-3 4-5 10-16 3-4 3-2 3 0 5 2 4 1 5 1 3 4 0 13 2 5 1 1 4-2 8-11 5-3 5-1 4 2 3 6 3 7 3 29 1 8 2 38 1 8 3 20 2 2 2-4 2 3 3 31 2 6 2 3 3-2 2-8 2 0 5 22 2 3 1-1 1-5 2-47 0-8 1-61 0-8-1-29-2-3-4 2-3 2-3 1-2-3-2-27 1-5 2-3 3 2 5 4 6 1 16-8 6-3 4-3 4 1 2 4 1 5 1 38 0 8-3 39 0 8 1 36 2 5 3 4 3 0 3-4 2-5 3-36 0-8 1-39 1-6 1-4 3 0 5 4 2 6 2 39 1 8 1 10 3 7 5 6 2-1 3-22 1-8 1-39 1-2 2 2 1 5 2 34 1 8 1 15 2 0 2-7 3-2 2 2 2-2 3-34 3-7 5-6 4-2 5 1 3 5 5 15 3 0 4-11 2 0 5 16 3 2 3-2 3 2 2 7 2 8 1 10 1 8-2 20-2 8-4 11-1 7 2 16 1 5 2 2 3-1 2-5 3 0 3 3 3-2 2-18-1-7-5-11-1-8 2-38 0-8 4-25 2-5 4-2 3 3 2 8 3 1 3-6 4-6 5-7 2-8 0-67-4-4zM627 1503l1-1 2 4 1 7 1 24-1 5-1 3-1-3-2-11 0-8zM876 1573l1-5 3-1 2 3 7 18 2 8 3 11 0 7-3 16-2 7-2 5-3 0-3-5-2-7-3-25-1-8zM958 1391l4-4 133 0 3 3-3 9-5 3-20-4-8 1-15 3-7 2-16 6-5 6-3 10 0 8 2 25 1 7 5 30 0 7-3 16-3 7-7 10-4-1-4-9-3-7-4-16-2-7-3-30-2-7-5-20-2-8-2-7 1-5 4-3-1-2-7 0-7 0-8 0-4-4zM1092 1391l4-4 147 0 3 4-3 21-1 8-1 38 0 8-1 34-1 0-2-34-1-7-2-16-3 0-5 7-5 4-6 3-6-1-6-3-3-6-3-18 1-6 3-6 0-5-3-5-4-1-5 4-4 5-2 7-3 5-5 2-5 3-4 5-6 1-7-2-7-3-7-3-6 0-8 7-6 2-6 0-2 4 3 25 1 8 1 52 0 8-3 34-4 6-7 5-5-2-4-11-1-8-2-47 0-8 2-62 0-8 2-24 0-8zM1170 1499l2-2 4 5 2 6 2 43-1 8-2 57-1 0-2-11-1-8-2-38-1-8zM1165 1560l2 0 0 124-2 0zM1198 1645l3 0 0 23-3 0zM1253 1391l5-4 56 0 5 4 1 44 0 8-1 52-1 6-2 4-2-2-4-14-1-7-3-25-2-7-3-7-2-4-3 0-2 4-8 16-3 7-8 39-3 6-4 5-4 6-4 11-2 0-4-20 0-8-2-39 0-8-1-38 1-8zM1335 1391l4-4 36 0 3 2-1 6-3 4-5 4-3 5-2 5-4 4-5 3-4-1-3-3-2 2-2 17-1 8-3 25-3 6-5 5-3 5-2 7-2 0 0-25 1-7 3-30 2-7 3-16 1-8zM1378 1391l5-4 89 0 4 4-2 67 0 8 2 85 0 8-3 84 0 8-1 76 0 8-3 33-1 0-3-24-1 0-2 29 0 8-2 47-1 8-1 91-7-91 0-7-5-62-1-8-2-61 0-8-2-85 0-8-2-29-2-7-4-12-3-1-3 5-4 1-3-2-2 2-2 34-1 8-2 47 0 8-4 39-1 0-1-39-1 0-4 39-1 8-4 38-1 8-3 24-1 8-4 20-1 8-3 7-1-1-3-66 0-8-1-85-1-8-2-84 0-8-1-85 0-8 1-38 1-8zM1492 1391l4-4 61 0 4 4-1 21 0 8-1 39 0 7-4 39-1 8-2 38 0 8-2 38 0 8-3 62 0 8-1 61 0 8-2 38 0 8-2 38 0 8-1 29-1 1-3-30-1 0-2 34-1 0-3-34 0-8-1-38 0-8-2-61-1-8-4-62 0-7-4-62-1-8-4-38-1-8-4-38-1-8-5-39-2-8-3-15-1-8zM1577 1391l4-4 23 5 6 3 4 5 5 6 5 7 2 7 4 39 0 7-3 20-3 1-5-7-4-1-3 4-2 7-2 38-1 8-2 61 0 8-6 39-2 7-5 25-2 0-4-15-3-7-4-4-2-6-3-39 0-8-2-61-1-8 2-62 0-7 2-39 0-8zM1630 1554l1-8 3-15 2 0 3 20 4 3 7-2 4 2 2 43 0 8 2 39 0 7-4 57-2 8-4 11-2 0-3-29-1 0-2 38 0 8-2 38-1 8-2 38 0 8-2 34-3-34 0-8-2-84 0-8-1-85 0-8-1-61 1-8zM1644 1391l4-4 122 0 4 2 0 6-4 3-20 0-8-1-15-3-8 0-15 3-6 4-9 12-6 5-6 3-4-1-4-5-5-2-7 2-4 4-3 4 0 6 3 20 2 8 2 7 2 7 1 25-1 6-4 4-2-1-3-20-2-8-3-11-1-7-2-25 0-8zM1686 1466l4-5 7-2 5 2 10 21 5 5 7 2 4 5 2 11 4 2 9-4 5 2 4 9 1 8 2 52 0 8-4 62 0 7-5 85 0 8-1 84 0 8-2 99-2 4-3 0-1-4 2-99 0-8 3-84 0-8-1-61-1 0-5 61-1 8-4 84 0 8-4 99-3 4-5 0-2-4 2-99-4 62-4-62-1 0-3 39-1 0-3-131 0-8 3-85 0-8 2-75 1 0 9 29 2 8 4 62 1 8 3 15 1 0 2-39 0-8-2-61-1-8-3-38-3-8-10-16-3 0-2 7-4 2-4-2-4-5-4-11-2-7-3-16-1-7zM1614 1578l4-5 1 19-3 5zM1675 1569l3 0-1 60-2 0zM1668 1657l3 0 0 32-3 0zM1664 1694l2 0 0 64-2 0zM1479 1472l3 0 0 37-3 0zM1765 1564l3-4 1 379-3 0zM1628 1724l2-4 5 0 2 4-1 72 0 8-2 30-3-30-2 94-1 0-2-94 0-8zM1704 1916l3 0 0 24-3 0z"/></defs><use href="#pkC" fill="#f7bcbe"/><use href="#pkC" fill="#f7bcbe" stroke="none"/><path fill="#c2c0e2" d="M677 1401l0-4 3-1 5 0 7 1 4 3 1 5-1 3-3 2-4 1-5-1-4-4zM826 1406l2-4 4-1 5 1 4 3 2 5-3 6-3 2-5-1-3-4zM858 1420l3-6 7-5 7-3 11-3 8-1 15 0 8-1 11-2 6 2 5 7 5 6 6 5 4 5 4 7-1 7-5 5-5 2-7-4-6 0-5 2-5 3-7 3-7 0-7-5-6-1-5 2-4 3-5 4-6 2-7 1-5-2-3-6-3-6-1-7 0-7zM1399 1425l2-5 3-3 1 3 2 39 1 7-1 85 0 8-2 29-3-29 0-8-2-61-1-8zM1348 1409l6-2 2 9-5 5zM1362 1398l12-3 2 10-9 2zM1599 1401l2-2 4 2 5 4 4 4 2 4-3 2-3 0-5-4-3-5z"/><path fill="#ee3a3e" stroke="none" d="M1453 1397l4-4 12 0 4 4-4 25-1 7-4 30-1 6-1 6 0-1-2-27-1-8-3-24-1-7zM1390 1494l2-4 2 0 2 4-1 57 0 8-1 47-1 4-1 0-1-4 0-47 0-8zM1736 1517l2 0 3 25 0 8 0 15-2 0-3-7-2-7 0-11 0-7zM1704 1491l3 3-1 10-2-2zM1002 1461l1-5 4-3 2 2 1 8 0 8-1 7-2 1-4-5-1-6zM1672 1390l14 0-2 5-9-1zM1731 1467l4 0 0 10-4 0z"/><path fill="#4a55a8" stroke="none" d="M1516 1393l3-4 34 0 3 2-1 3-5 3-8 2-6 2-5 3-5 1-6 0-3-4zM1063 1434l1-2 3 5 2 2 1-1 3 1 3 3 2 6 1 22-1 3-3-2-3-3-2-2-2-3-3-3-1-6zM1704 1443l2-5 2-2 3 2 3 7 4 1 5-6 3 1 2 13-1 6-2 5-4 1-5-2-4-2-3-1-3-3-3-3 0-5zM1753 1443l1-2 3 2 1 5 1 11 0 7-3 16-1 0-3-16 0-7zM1692 1425l2 0 0 14-2 0z"/></g></g>
<g clip-path="url(#cF)"><rect x="902.5" y="693.7" width="803.2" height="275.8" fill="#c2c0e2"/><g transform="scale(0.5)" stroke="#c79aa9" stroke-width="0.8" stroke-linejoin="round"><defs><path id="pkF" d="M1803 1391l4-4 7 0 4 2 1 6 0 6-4 12-2 7-2 25 2 4 5 1 2 5-2 27-1 8-3 38-1 8-2 38 0 8-2 38-1 8-2 16-1 3-1 0-1-4zM1827 1420l2-5 5-4 5-2 4-1 4 1 2 5-1 6-5 7-4 5-3 5-4 1-3-2-2-5zM1841 1391l4-4 15 0 5 4 1 7 2 3 4-4 4-2 4 0 5 3 4 6 2 6-3 6-3 2-3-1-3-2-2-4-3 0-4 4-2 5-4 39 0 7-2 39-1 8-1 38-1 8 0 57-1 0-2-11-1-8-1-84 0-8-1-62-1-8-3-15-3-7-3-7-1-8zM1900 1453l3-7 3-4 3 1 4 11 3 8 3 10 1 8 0 16-1 7-3 16-3 0-3-7-3-7-5-20-2-7-2-7 0-8zM1954 1391l4-4 11 0 3 4-1 7-2 6-4 2-3 3-4 5-2-2zM1961 1471l2-6 3-5 4-3 3-3 4 1 5 3 4 1 3-2 4 2 4 9 2 8 1 15-1 7-4 7-3 1-4-4-3-6-4-7-3-5-4-2-3 1-4 5-2 0-2-5-1-5zM2005 1391l4-4 8 0 4 4-2 21 1 8 3 15 2 1 4-16 1-8-3-10 1-7 5-6 6-2 24 0 3 3-2 9-5 5-7 2-5 2-5 2-3 6-1 10 0 8 3 11 2 7 3 7 0 7-3 16-3 7-3 7-2 7-2 20-1 0-3-10-1-8-2-20-2-5-3-2-3 2-3 11-2 6-3 5-2-2-1-34 0-8 0-38 0-8zM2053 1408l-2 1 3 5 2 6 2 15-1 8-2 11 0 5 4 2 3 4 4 4 2-1 3-11 1-8-2-20-1-7-1-7-4-4zM2072 1390l2-3 20 0 4 4 1 21 0 8-1 39-1 7-3 20-2 1-5-12-3-2-3 2-3-2-1-7 1-7 5-16 1-8 2-15-2-7-3-7-4-7zM2107 1395l4-2 36 0 5 2 2 5-1 4-5 2-1 5 3 15 1 8 2 25-2 7-3 9-4 2-3-4-2-5-3-25 0-8-1-24-3-3-4 2-3 6-1 19 0 8-1 22-1 3-2-4-1-6-1-33-1-5-2-3-2-4-3-7-1-6zM2152 1391l3-4 93 0 4 4 0 21 0 8-3 15-2 8-1 16-1 7-4 39-1 7-3 7-1 0-2-29-1-8-5-16-1 0-2 39-1 7-3 7-2 0-2-7-2-7-2-25-2-7-3-7-2 0-2 16 0 8-1 61-1 8-1 34-2-34 0-8-2-71-2-7-4-7-2 0-2 39 0 8-1 56-1 8-2 11-1 0-2-29 0-8 1-38 0-8-2-43-3-7-5-8-4-7-5-11-3-7zM2253 1391l3-4 20 0 4 4-2 68 0 7-2 85 0 8-1 84 0 8-1 85 0 8-1 84 0 8-1 103-1 4-3 0-1-4-2-103 0-8 0-84-1-8-1-85 0-8-3-84-1-8-4-85 0-7zM2287 1466l2-4 3 0 2 4 1 131 0 8 0 131 0 8-1 84 0 8-1 103-1 4-2 0-1-4-1-103 0-8 0-177 0-8zM2322 1513l4-4 10 0 4 4 1 84 0 8 0 131 0 8-1 84 0 8-1 103-1 4-3 0-2-4-1-103 0-8-1-84 0-8-4-61-1-8-3-62 0-8zM2308 1490l2-4 5 0 2 4-1 107 0 8-3 85-1 0-3-85 0-8zM2357 1402l2-4 6 0 3 4-1 56 0 8-3 53-1 8-3 61-2-75 0-8zM2382 1480l1-8 7-38 4-2 4 5 3 6 6 39 1 8 2 38 0 8-2 38-1 8-4 62-1 7-5 16-2 8-5 24-1 0-4-48-1-8-2-84 0-8zM2421 1490l2-8 6-16 3-6 4-4 2 1 4 25 0 8-2 61 0 8 4 38 0 8 2 108-1 0-7-62-1 0-4 71-5-71 0-7-4-85-1-8zM2449 1391l4-4 41 0 4 4 1 12-3 6-9 5-4 6-1 7-2 0-4-7-4-5-6-2-3 3-2 19 0 8 2 39-1 8-3 33-1 0-4-33-1-8-1-39-1-8zM2470 1476l1-5 2-3 3 3 4 7 2 7 1 15-2 8-3 9-3 0-3-5-1-7zM2505 1391l4-4 17 0 4 4 2 21 0 8-4 15-2 2-4-5-3-5-5-7-3-8zM2581 1391l4-4 24 0 4 4 0 21-3 6-7 5-7 4-5 2-4-3-4-15-1-8zM2569 1647l4 0 0 139-2 0zM2589 1532l3 0 0 185-3 0zM2598 1391l4-4 59 0 4 4 4 21 0 8-3 15-1 8-2 62-1 8-2 84 0 8-2 85 0 8-2 84-1 8-4 35-5-81 0-8-2-85 0-7-4-62-1-8-2-61 0-8-4-39-3-7-5-7-4-7-5-11-4-7-5-7-4-6-4-5-1-6zM2669 1391l4-4 52 0 5 4 2 68 0 7 2 85 0 8-2 84 0 8-2 85-1 8-2 84 0 8-6 85-1 0-4-85-1 0-4 85-7-85-7 85-7-85-6 39-1 0-4-131 0-8-3-85 0-7-4-85 0-8-3-85 0-8zM2734 1391l4-4 52 0 4 4-4 44-1 8-4 62 0 8-4 84-1 8-4 85 0 8-5 84 0 8-2 85-5-131 0-8-2-85 0-8-2-84-1-8-2-61-1-8-7-16-3-6-5-4-3-7-3-29-1-8zM2801 1391l4-4 13 0 4 4 0 91-1 8-3 15-2 0-4-7-2 1-3 15-1 0-2-48-1-7zM2822 1391l4-4 34 0 3 4-3 21-1 8 2 39 0 7-2 39 0 8-2 38-1 8-1 20-1 0-4-29-1 0-3 24-1 8-2 38 0 8-2 62-1 8-4 38-1 8-3 38-1 0-2-15 0-8-2-61 0-8-1-85 0-8-2-24 0-8zM2873 1434l2-7 3-7 2 0 2 15 1 8-1 39-1 7-2 7-2 0-3-30 0-7zM2905 1513l1-8 6-34 1-3 2 1 0 4-1 78-1 8-3 84 0 8-2 71-1 0-3-71 0-8zM2938 1434l1-6 4-3 3 0 4 3 3 0 4-3 2 2 3 18 1 8-2 29-1 8-1 10-2 1-4-7-3-6-4-5-3-6-3-11-2-7zM2975 1439l2-5 5-3 3 3 2 15 0 8-1 25-1 8-2 10-2 0-3-20-1-8zM2998 1462l0-8 3-11 4-6 4-5 5 0 5 5 4 4 5 4 6 2 7 1 6-2 8-4 6-4 7-2 4 3 4 20 0 7 0 39 0 8-2 38-2 7-3 7-3 7-2 7-3 5-2 2-2 4-3 4-2 3-4 0-2-4-2-34-1-7-2-7-2-8-4-24-1-8-3-11-2-6-2-5-4-5-5-8-3 1-2 11-3 6-3 5-2-2-4-11-2-8zM3095 1494l2-3 3 3 2 5 2 29 0 8-4 24-1 7-2 4-1-1-2-34 0-8zM3005 1389l1-2 413 0 4 4 0 35-3 3-7-2-7 1-7 5-6-1-9-8-6-1-11 5-7 0-17-10-4-6-3-10-5-4-61 0-5 4-3 20-3 1-5-4-4 1-10 16-6 2-10-2-8-3-7-5-7-1-11 6-6-1-9-13-5 0-9 8-6 3-13 0-5 4-14 48-2 0-4-48-2-7-5-12-6-3-15 3-8 3-16 6-7 0-11-6-7-1-7 3-6 0-5-3-3-5-3-10-4-7zM3109 1434l3-4 7 0 4 4 4 94 1 8 3 24 0 8-3 7-2-1-7-15-1-8-7-61 0-8zM3139 1420l4-4 8 0 4 4 2 85 0 8-2 84 0 8-4 85-1 8-3 15-2 0-4-62 0-8-2-84 0-8-2-85 0-7zM3187 1443l4-5 11-6 4 2 4 71 0 8-2 84 0 8-4 85-1 8-4 38-4-85-1-7-4-85 0-8zM3266 1391l4-4 57 0 4 4 2 68 0 7-2 39 0 8-2 38-1 8-6 85-1 7-2 30-4-30-1-7-4-39-1 0-5 39-1 7-4 39-1 8-3 15-2 0-3-15-1-8-4-39-1-7-4-85-1-8-3-38-1-8-4-39-1-7-1-39-1-8zM3340 1387l5 0 0 99-4 0zM3359 1391l1-4 4 0 1 4-1 114 0 8-2 107-2-107-1-8zM3381 1387l2 0 0 168-2 0zM3404 1387l3 0 0 145-3 0zM3127 1943l3-157 2 19 2 138zM3225 1943l2-157 3 23 2 134z"/></defs><use href="#pkF" fill="#f7bcbe"/><use href="#pkF" fill="#f7bcbe" stroke="none"/><path fill="#c2c0e2" stroke="none" d="M2287 1704l3 0-1 156-1 0zM2237 1570l1 0 0 37-1 0zM2298 1560l4 0-1 215-2 0zM2278 1604l1 0 0 249-1 0zM2225 1717l2 0-1 243-1 0zM2252 1412l1 0 0 254-1 0zM2305 1456l3 0-1 235-1 0zM2319 1534l2 0 0 82-1 0zM2375 1494l4 0-1 280-2 0zM2246 1653l2 0 0 116-1 0zM2252 1641l2 0 0 296-1 0zM2372 1595l4 0-2 144-1 0zM2217 1472l4 0-1 227-2 0zM2258 1460l4 0-1 25-2 0zM2328 1439l3 0-1 30-2 0zM2292 1499l4 0-2 314-1 0zM2316 1588l3 0-1 199-1 0zM2319 1689l4 0-1 233-2 0zM2335 1540l3 0-1 266-1 0zM2338 1595l1 0-1 161zM2329 1599l3 0-1 290-1 0zM2212 1621l2 0-1 79zM2364 1541l3 0-1 281-1 0zM2360 1588l2 0-1 113-1 0zM2257 1544l2 0-1 100zM2250 1407l2 0 0 205-1 0zM2244 1452l3 0-1 23-1 0zM2364 1707l2 0-1 232zM2246 1723l4 0-1 307-2 0zM2344 1699l3 0-1 271-1 0zM2224 1577l3 0-1 246-1 0zM2215 1413l4 0-2 255-1 0zM2267 1439l4 0-1 64-2 0zM2333 1624l4 0-1 298-2 0zM2371 1466l2 0-1 175zM2263 1677l2 0 0 284-1 0zM2355 1569l4 0-1 188-2 0zM2298 1662l2 0-1 185-1 0zM2367 1551l2 0-1 58zM2349 1552l4 0-1 114-2 0zM2315 1435l4 0-1 249-2 0zM2243 1624l2 0-1 114zM2315 1638l2 0-1 56zM2253 1571l1 0 0 148-1 0zM2250 1665l3 0-1 285-1 0zM2233 1637l2 0-1 96-1 0zM2351 1658l3 0-1 57-1 0zM2375 1562l1 0 0 243-1 0zM2327 1415l1 0 0 51-1 0zM2304 1584l3 0-1 63-1 0zM2245 1726l4 0-2 292-1 0zM2221 1548l4 0-1 244-2 0zM2289 1537l3 0-1 196-1 0zM2279 1447l2 0-1 171-1 0zM2340 1636l3 0-1 40-1 0zM2336 1527l2 0-1 35-1 0zM2348 1593l1 0 0 243-1 0zM2368 1551l2 0-1 69zM2314 1711l1 0 0 143-1 0zM2657 1491l3 0-1 25-1 0zM2750 1726l1 0 0 297-1 0zM2781 1553l3 0-1 305-1 0zM2763 1430l3 0 0 204-2 0zM2641 1570l1 0 0 56-1 0zM2734 1480l2 0-1 191-1 0zM2783 1405l4 0-1 38-2 0zM2685 1426l3 0-1 179-1 0zM2617 1578l4 0-1 205-2 0zM2643 1479l2 0-1 257-1 0zM2616 1636l3 0-1 224-1 0zM2629 1637l2 0-1 127-1 0zM2688 1494l3 0-1 114-1 0zM2787 1475l4 0-1 126-2 0zM2759 1674l3 0-1 185-1 0zM2752 1487l4 0-1 26-2 0zM2613 1658l3 0-1 44-1 0zM2747 1420l4 0-1 206-1 0zM2705 1663l3 0-1 143-1 0zM2629 1726l4 0-1 131-2 0zM2641 1490l2 0 0 305-1 0zM2662 1610l1 0 0 248-1 0zM2612 1589l3 0-1 287-1 0zM2719 1454l2 0-1 102zM2752 1577l2 0-1 260-1 0zM2652 1700l4 0-1 121-2 0zM2760 1570l3 0-1 171-1 0zM2798 1472l3 0-1 23-1 0zM2674 1632l4 0-1 198-2 0zM2631 1479l3 0-1 275-1 0zM2727 1481l5 0-2 177-1 0zM2616 1634l3 0-1 48-1 0zM2694 1590l4 0-1 271-2 0zM2662 1417l2 0 0 110-1 0zM2743 1624l2 0 0 51-1 0zM2692 1672l5 0-2 212-1 0zM2675 1472l4 0-1 185-2 0zM2658 1574l2 0 0 107-1 0zM2666 1582l4 0-1 232-2 0zM2618 1444l2 0-1 57zM2753 1522l4 0-1 117-1 0zM2732 1398l3 0-1 117-1 0zM2797 1633l3 0-1 265-1 0zM2789 1458l3 0-1 45-1 0zM2715 1503l4 0-1 292-2 0zM2637 1417l3 0-1 30-1 0zM2748 1591l2 0-1 256-1 0zM2635 1481l3 0-1 186-1 0zM2705 1537l3 0-1 286-1 0zM2750 1592l3 0-1 40-1 0zM2705 1495l2 0 0 136-1 0zM2781 1659l1 0 0 57-1 0zM2790 1474l1 0 0 108zM2613 1667l4 0-2 137-1 0zM2717 1402l1 0 0 284zM2700 1722l4 0-1 158-2 0zM2640 1456l4 0-1 278-2 0zM2743 1627l1 0 0 295-1 0zM2616 1495l2 0-1 229-1 0zM2636 1616l2 0 0 252-1 0zM2732 1591l4 0-1 87-1 0zM2785 1485l4 0-1 208-2 0zM2797 1570l2 0-1 176-1 0zM2720 1476l2 0-1 256zM2657 1475l4 0-1 101-2 0zM2637 1725l4 0-1 30-2 0zM2750 1705l3 0-1 167-1 0zM2703 1677l3 0-1 221-1 0zM2647 1466l3 0-1 190-1 0zM2636 1397l2 0-1 166zM2714 1659l3 0-1 90-1 0zM2662 1498l2 0-1 202zM2653 1421l3 0-1 261-1 0zM2803 1571l3 0-1 217-1 0zM2810 1462l2 0 0 105-1 0zM2802 1572l5 0-2 166-1 0zM2825 1623l3 0-1 142-1 0zM2861 1601l3 0-1 112-2 0zM2859 1576l2 0 0 63-1 0zM2813 1430l3 0-1 61-1 0zM2825 1396l2 0 0 56-1 0zM2828 1560l4 0-2 74-1 0zM2863 1467l2 0-1 97zM2862 1573l2 0-1 124-1 0zM2802 1491l2 0 0 129-1 0zM2849 1563l2 0 0 153-1 0zM2814 1560l2 0 0 101-1 0zM2861 1460l2 0-1 89-1 0zM3392 1525l3 0-1 174-1 0zM3304 1582l3 0-1 165-1 0zM3286 1477l2 0-1 85zM3209 1491l2 0-1 67zM3215 1425l2 0 0 131-1 0zM3307 1531l3 0 0 24-2 0zM3203 1472l1 0 0 29-1 0zM3272 1457l2 0 0 62-2 0zM3148 1514l2 0 0 180-2 0zM3208 1399l4 0-1 43-1 0zM3186 1587l2 0-1 45-1 0zM3161 1438l3 0-1 20-1 0zM3212 1490l2 0-1 129zM3284 1558l3 0-1 181-2 0zM3256 1441l1 0 0 75-1 0zM3249 1404l2 0-1 32zM3308 1482l2 0 0 149-1 0zM3140 1565l4 0-1 29-1 0zM3247 1470l4 0-1 139-2 0zM3127 1397l3 0-1 110-1 0zM3206 1551l2 0-1 161-1 0zM3211 1544l4 0-1 184-2 0zM3305 1551l3 0-1 45-1 0zM3123 1442l4 0-1 101-2 0zM3175 1488l2 0-1 81zM3106 1570l1 0 0 72-1 0zM3240 1553l3 0-1 86-1 0zM3145 1425l1 0-1 40zM3201 1453l4 0-1 106-2 0zM3328 1412l4 0-1 178-2 0zM3190 1458l1 0 0 144-1 0zM3320 1527l3 0-1 50-1 0zM3134 1478l3 0-1 21-1 0zM3215 1499l2 0 0 179-1 0zM3145 1527l2 0 0 178-1 0zM3355 1492l4 0-1 115-2 0zM3350 1482l3 0-1 131-1 0zM3209 1512l2 0 0 115-1 0zM3291 1557l4 0-1 153-1 0zM3398 1565l1 0 0 139-1 0zM3340 1499l3 0-1 164-1 0zM3260 1551l4 0-1 45-1 0zM3362 1431l3 0-1 131-1 0zM3095 1454l2 0-1 126-1 0zM3222 1473l3 0-1 96-1 0zM3229 1475l1 0 0 67-1 0zM3386 1530l2 0-1 133zM3218 1570l1 0 0 63-1 0zM3196 1561l4 0-1 119-2 0zM3121 1409l4 0-1 81-2 0zM3097 1485l3 0-1 81-1 0zM3158 1433l4 0-1 82-2 0zM3383 1396l4 0-1 79-2 0zM3255 1549l2 0 0 71-1 0zM3129 1417l3 0-1 35-1 0zM3181 1441l4 0-1 89-2 0zM3122 1422l4 0-1 182-1 0zM3216 1564l3 0-1 181-1 0zM3139 1397l2 0 0 39-2 0zM3390 1561l3 0-1 28-1 0zM3114 1414l2 0 0 173-1 0zM3170 1477l2 0 0 100-1 0zM3223 1401l3 0-1 160-1 0zM3254 1471l3 0-1 58-1 0zM3241 1473l1 0 0 181-1 0zM3274 1465l4 0-1 119-2 0zM3183 1509l4 0-1 73-2 0zM3250 1402l4 0-1 36-2 0zM3174 1477l3 0-1 163-1 0zM3395 1406l4 0-1 151-2 0zM3323 1481l2 0 0 93-1 0zM3297 1414l2 0 0 40-2 0zM3386 1576l3 0-1 55-1 0zM3256 1416l4 0-1 166-2 0zM3243 1469l3 0-1 150-1 0zM3320 1509l2 0-1 53zM3141 1510l2 0-1 107-1 0zM3268 1463l4 0-1 118-2 0zM3394 1531l2 0 0 59-1 0zM3392 1483l5 0-2 101-1 0zM3323 1453l2 0 0 161-1 0zM3307 1502l3 0-1 75-2 0zM3158 1498l2 0-1 122-1 0zM3315 1441l2 0 0 24-1 0zM3169 1442l2 0-1 42-1 0zM3140 1562l4 0-2 122-1 0zM2402 1412l3 0 0 164-2 0zM2572 1509l1 0 0 30-1 0zM2495 1484l1 0 0 47-1 0zM2458 1426l3 0-1 122-1 0zM2515 1556l3 0-1 32-1 0zM2385 1537l2 0-1 120zM2508 1534l3 0-1 20-1 0zM2555 1538l4 0-1 79-2 0zM2496 1510l2 0-1 86-1 0zM2574 1418l2 0-1 57zM2552 1433l3 0-1 115-1 0zM2495 1546l2 0-1 47zM2499 1526l1 0 0 55-1 0zM2543 1535l3 0-1 22-1 0zM2464 1552l1 0 0 41-1 0zM2411 1558l4 0-1 48-2 0zM2529 1519l4 0-1 158-2 0zM2462 1439l1 0 0 157-1 0zM2421 1400l2 0-1 65-1 0zM2496 1406l4 0-1 52-2 0zM2448 1554l4 0-1 93-2 0zM2481 1540l3 0-1 88-1 0zM2588 1396l4 0-1 130-2 0zM2391 1422l2 0 0 127-1 0zM2482 1394l2 0 0 64-1 0zM2450 1547l2 0-1 104-1 0zM2499 1450l2 0 0 152-1 0zM2586 1547l4 0-1 43-2 0zM2597 1421l2 0-1 125-1 0zM2508 1558l2 0 0 61-1 0zM2493 1392l3 0-1 92-1 0zM2506 1473l4 0-1 33-2 0zM2486 1562l3 0-1 61-1 0zM2447 1553l2 0-1 24-1 0zM2597 1413l3 0-1 126-1 0zM2187 1437l4 0-1 46-2 0zM2120 1439l4 0-1 41-2 0zM1885 1455l3 0-1 84-1 0zM2195 1422l4 0-1 39-2 0zM2005 1471l1 0 0 56zM2108 1410l2 0-1 59-1 0zM1941 1396l1 0 0 44-1 0zM2190 1430l3 0-1 47-1 0zM1910 1483l3 0 0 56-2 0zM2116 1405l2 0-1 58zM2092 1431l3 0-1 27-1 0zM2192 1397l4 0-1 24-2 0zM1829 1403l3 0-1 24-1 0zM1817 1427l1 0 0 52-1 0zM2191 1436l4 0-1 60-1 0zM2014 1428l2 0-1 80-1 0zM2127 1433l3 0-1 45-1 0zM1991 1449l2 0 0 48-1 0zM2119 1435l3 0-1 80-1 0zM1960 1481l4 0-1 74-1 0zM2072 1431l4 0-1 65-2 0zM1834 1467l3 0-1 77-1 0zM1920 1440l3 0-1 54-1 0zM1978 1447l2 0-1 51zM1962 1424l2 0 0 57-1 0zM2183 1408l2 0 0 28-1 0zM2090 1472l2 0-1 35-1 0zM2205 1412l2 0-1 62-1 0zM1896 1472l4 0-1 35-1 0zM1902 1396l3 0-1 67-1 0zM2146 1445l3 0 0 27-2 0zM1951 1447l5 0-2 78-1 0zM1851 1456l1 0 0 32-1 0zM2077 1421l3 0-1 52-1 0zM2035 1425l2 0-1 36-1 0zM1914 1420l2 0-1 60zM1855 1435l4 0-1 54-2 0zM2010 1427l3 0-1 55-1 0zM2022 1464l2 0 0 81-2 0zM2162 1476l5 0-2 77-2 0zM1909 1441l4 0-1 55-2 0zM1815 1427l2 0 0 64-1 0zM2063 1412l1 0 0 64-1 0zM2113 1395l2 0-1 74zM2056 1395l4 0-1 59-2 0zM2139 1457l2 0 0 33-1 0zM2090 1453l5 0-2 63-1 0zM2097 1397l3 0-1 53-1 0zM2022 1394l2 0-1 87zM1942 1446l2 0-1 82zM2010 1462l3 0-1 58-1 0zM1886 1399l3 0-1 78-1 0zM2114 1396l4 0-1 76-2 0zM1875 1394l1 0 0 80-1 0zM1825 1418l2 0-1 33-1 0zM1890 1407l3 0-1 31-1 0zM1960 1444l2 0-1 54zM2000 1448l1 0 0 33-1 0zM1814 1445l4 0-1 47-2 0zM2186 1427l2 0-1 68-1 0zM2093 1395l4 0-1 40-2 0zM2110 1456l4 0-1 83-2 0zM1863 1397l3 0-1 63-1 0zM2205 1425l2 0-1 67-1 0zM2150 1443l1 0 0 43-1 0zM2065 1457l1 0 0 36-1 0zM2099 1477l4 0-1 49-2 0zM2039 1480l3 0-1 24-1 0zM1824 1467l3 0-1 67-1 0zM2152 1402l3 0-1 63-1 0zM1902 1406l1 0 0 25-1 0zM2898 1497l3 0-1 55-1 0zM3009 1393l3 0-1 68-1 0zM3002 1457l3 0-1 26-1 0zM3004 1518l3 0-1 100-1 0zM2880 1402l3 0-1 88-1 0zM2903 1468l2 0 0 98-1 0zM2935 1505l2 0 0 42-1 0zM3035 1478l1 0 0 41-1 0zM3003 1511l1 0 0 54zM3042 1396l1 0 0 86-1 0zM2886 1513l4 0-1 82-2 0zM3029 1493l4 0-1 24-2 0zM2901 1513l3 0-1 107-1 0zM2944 1481l3 0-1 93-1 0zM2896 1413l2 0-1 104-1 0zM3039 1504l4 0-1 118-2 0zM3056 1474l2 0-1 45-1 0zM2892 1509l4 0-1 51-2 0zM2896 1473l1 0 0 110-1 0zM2926 1420l4 0-1 109-2 0zM2974 1429l2 0-1 62zM3030 1473l2 0-1 101zM2873 1468l3 0-1 52-1 0zM3061 1408l3 0-1 101-1 0zM2993 1403l1 0 0 62-1 0zM3012 1491l3 0-1 88-1 0zM2995 1497l4 0-1 29-2 0zM2880 1514l2 0 0 51-1 0zM2972 1427l3 0-1 99-1 0zM3056 1392l4 0-1 75-2 0zM3017 1458l2 0-1 41-1 0zM2927 1405l3 0-1 34-1 0zM2954 1497l1 0 0 119-1 0zM3036 1511l4 0-1 41-2 0zM2906 1507l2 0 0 112-1 0zM3041 1450l2 0 0 67-1 0z"/><path fill="#f7bcbe" stroke="none" d="M2310 1564l2 0-1 205-1 0zM2226 1422l2 0 0 258-1 0zM2217 1717l4 0-1 212-2 0zM2251 1548l1 0 0 150zM2257 1728l5 0-2 267-1 0zM2264 1489l2 0-1 41-1 0zM2278 1522l4 0-1 301-2 0zM2210 1699l2 0-1 158zM2277 1608l4 0-1 50-2 0zM2222 1588l2 0 0 92-1 0zM2273 1716l3 0-1 162-1 0zM2357 1443l2 0 0 287-1 0zM2350 1491l3 0-1 71-1 0zM2222 1580l2 0-1 271-1 0zM2286 1451l1 0 0 128-1 0zM2232 1693l3 0-1 307-1 0zM2365 1717l3 0-1 26-1 0zM2303 1696l3 0-1 236-1 0zM2345 1510l4 0-1 221-2 0zM2358 1659l3 0-1 273-1 0zM2323 1537l2 0-1 257zM2294 1678l4 0-1 229-1 0zM2280 1558l4 0-1 113-2 0zM2377 1417l3 0-1 29-1 0zM2217 1584l4 0-2 111-1 0zM2213 1545l2 0-1 27zM2317 1664l3 0-1 302-1 0zM2331 1483l2 0 0 122-1 0zM2298 1647l4 0-1 135-2 0zM2287 1699l3 0-1 131-1 0zM2359 1711l4 0-1 156-1 0zM2245 1668l3 0-1 208-1 0zM2334 1568l3 0-1 268-1 0zM2301 1596l3 0-1 28-1 0zM2327 1573l2 0-1 142zM2280 1445l3 0-1 80-1 0zM2319 1679l2 0 0 200-2 0zM2264 1465l4 0-2 313-1 0zM2326 1459l2 0-1 221zM2329 1453l4 0-1 153-2 0zM2362 1630l4 0-2 272-1 0zM2279 1562l3 0-1 308-1 0zM2254 1643l4 0-1 248-2 0zM2279 1689l4 0-1 224-2 0zM2290 1512l1 0 0 207-1 0zM2249 1617l5 0-2 119-1 0zM2307 1523l3 0-1 314-1 0zM2329 1723l4 0-1 26-2 0zM2274 1476l1 0 0 286-1 0zM2296 1583l5 0-2 312-1 0zM2312 1488l2 0-1 212-1 0zM2609 1646l1 0 0 135-1 0zM2705 1636l4 0-1 157-2 0zM2756 1729l2 0 0 299-2 0zM2648 1693l1 0 0 250-1 0zM2672 1623l2 0-1 186-1 0zM2727 1456l3 0-1 93-1 0zM2696 1508l2 0-1 238-1 0zM2615 1665l1 0 0 203-1 0zM2731 1501l4 0-1 181-2 0zM2784 1516l3 0-1 49-1 0zM2616 1582l1 0 0 162-1 0zM2660 1417l3 0-1 83-1 0zM2742 1702l3 0-1 296-1 0zM2673 1522l2 0-1 78-1 0zM2709 1718l3 0-1 211-1 0zM2749 1474l3 0-1 85-1 0zM2704 1525l4 0-1 119-2 0zM2734 1573l3 0-1 232-1 0zM2783 1671l3 0-1 215-1 0zM2761 1692l4 0-1 301-2 0zM2622 1465l2 0-1 89-1 0zM2791 1466l3 0-1 35-1 0zM2754 1669l1 0 0 268-1 0zM2758 1701l2 0 0 47-1 0zM2642 1569l3 0-1 66-1 0zM2602 1662l4 0-1 80-2 0zM2678 1478l4 0-1 79-2 0zM2765 1439l2 0-1 48zM2742 1527l1 0 0 266-1 0zM2615 1536l4 0-2 170-1 0zM2603 1628l3 0-1 308-1 0zM2730 1519l2 0-1 170zM2765 1445l3 0-1 245-1 0zM2710 1561l2 0-1 61-1 0zM2693 1720l1 0 0 60-1 0zM2709 1581l3 0-1 97-1 0zM2798 1595l4 0-1 56-1 0zM2658 1473l4 0-1 188-2 0zM2797 1614l5 0-2 110-1 0zM2640 1440l3 0-1 133-1 0zM2728 1618l2 0-1 63zM2720 1530l3 0-1 204-1 0zM2752 1556l3 0-1 312-1 0zM2771 1538l3 0-1 186-1 0zM2611 1696l3 0-1 234-1 0zM2689 1525l3 0-1 36-1 0zM2614 1718l4 0-1 215-2 0zM2684 1466l4 0-1 239-2 0zM2659 1695l4 0-1 77-2 0zM2671 1449l3 0-1 279-1 0zM2621 1497l4 0-1 284-2 0zM2711 1513l3 0-1 213-1 0zM2790 1655l2 0 0 68-1 0zM2647 1653l3 0-1 251-1 0zM2607 1633l3 0-1 188-1 0zM2688 1661l2 0 0 42-1 0zM2651 1625l2 0-1 264-1 0zM2804 1477l3 0-1 64-1 0zM2832 1401l3 0-1 68-1 0zM2818 1448l3 0-1 113-1 0zM2828 1405l3 0 0 89-2 0zM2833 1497l2 0-1 219-1 0zM2860 1482l2 0 0 34-1 0zM2811 1476l4 0-1 173-2 0zM2828 1401l2 0-1 50-1 0zM2803 1540l1 0 0 133-1 0zM3119 1476l2 0-1 45zM3198 1505l4 0-2 63-1 0zM3269 1546l4 0-1 124-2 0zM3217 1447l3 0-1 158-1 0zM3197 1454l5 0-2 140-1 0zM3303 1556l4 0-1 47-2 0zM3242 1465l3 0-1 68-1 0zM3312 1458l2 0-1 147zM3347 1476l3 0-1 138-1 0zM3348 1416l3 0-1 83-1 0zM3162 1394l1 0 0 118-1 0zM3391 1529l1 0 0 90-1 0zM3213 1589l4 0-1 28-2 0zM3127 1449l1 0 0 142-1 0zM3190 1505l2 0-1 44zM3147 1591l2 0-1 54-1 0zM3261 1516l3 0-1 66-1 0zM3358 1480l4 0-1 159-2 0zM3155 1394l4 0-1 108-2 0zM3336 1471l3 0-1 154-1 0zM3309 1573l2 0-1 24-1 0zM3160 1465l3 0-1 130-1 0zM3203 1462l3 0-1 67-1 0zM3363 1542l2 0 0 38-1 0zM3223 1435l5 0-2 88-1 0zM3147 1589l2 0 0 45-1 0zM3207 1434l3 0-1 123-1 0zM3100 1481l3 0-1 119-1 0zM3379 1485l1 0 0 186-1 0zM3187 1589l4 0-1 87-2 0zM3129 1490l5 0-2 59-1 0zM3177 1406l3 0-1 113-1 0zM3242 1551l2 0 0 163-1 0zM3121 1461l1 0 0 164zM3126 1469l2 0 0 162-1 0zM3370 1589l1 0 0 54-1 0zM3277 1428l3 0-1 41-1 0zM3235 1415l1 0 0 177-1 0zM3201 1590l2 0-1 136-1 0zM3202 1473l2 0-1 44-1 0zM3382 1532l2 0 0 59-1 0zM3178 1449l4 0-1 162-1 0zM3231 1469l4 0-1 144-2 0zM3314 1460l3 0-1 170-1 0zM3188 1513l3 0-1 182-1 0zM3398 1557l2 0-1 129-1 0zM3399 1484l2 0-1 87zM3212 1408l4 0-1 48-2 0zM3283 1442l4 0-1 156-2 0zM3331 1485l1 0 0 23-1 0zM3157 1503l3 0-1 97-1 0zM3093 1555l2 0 0 143-1 0zM3242 1569l3 0-1 178-1 0zM3245 1470l4 0-1 70-1 0zM3205 1488l3 0-1 59-1 0zM3179 1408l3 0-1 185-1 0zM3192 1555l2 0-1 152-1 0zM3108 1401l3 0-1 124-1 0zM3377 1396l4 0-1 176-2 0zM3270 1539l1 0 0 90-1 0zM3189 1406l4 0-1 39-2 0zM3100 1467l2 0 0 133-1 0zM3316 1443l3 0 0 31-2 0zM3207 1478l4 0-2 123-1 0zM3385 1553l3 0-1 36-1 0zM3327 1571l3 0-1 175-1 0zM3203 1535l4 0-1 69-2 0zM3175 1447l2 0-1 105-1 0zM3318 1523l2 0 0 174-2 0zM2437 1556l2 0-1 73zM2431 1457l3 0-1 125-1 0zM2491 1453l3 0-1 53-1 0zM2404 1507l4 0-1 30-1 0zM2506 1512l4 0-1 144-2 0zM2487 1477l1 0 0 101-1 0zM2504 1444l1 0 0 69-1 0zM2587 1559l4 0-1 154-2 0zM2586 1478l1 0 0 105-1 0zM2591 1411l1 0 0 146-1 0zM2456 1527l2 0-1 58zM2446 1519l3 0-1 118-1 0zM2471 1457l5 0-2 71-2 0zM2598 1415l2 0 0 135-1 0zM2454 1458l4 0-1 62-1 0zM2573 1555l4 0-1 70-2 0zM2407 1486l3 0-1 103-1 0zM2453 1443l3 0-1 135-1 0zM2384 1532l2 0 0 92-1 0zM2437 1456l4 0-1 89-2 0zM2531 1490l3 0-1 92-1 0zM2399 1433l3 0-1 140-1 0zM2436 1480l4 0-1 82-2 0zM2588 1476l3 0-1 62-1 0zM2491 1426l2 0-1 51-1 0zM2557 1553l4 0-1 119-2 0zM2537 1532l3 0-1 46-1 0zM2455 1499l4 0-1 152-1 0zM2522 1509l1 0 0 36-1 0zM2572 1424l2 0-1 121-1 0zM2571 1530l4 0-2 146-1 0zM1819 1465l2 0-1 35zM2181 1418l4 0-1 85-2 0zM2000 1403l4 0-1 49-2 0zM2115 1450l3 0-1 84-1 0zM2098 1421l3 0-1 72-1 0zM2088 1403l2 0 0 49-1 0zM2108 1451l2 0-1 66-1 0zM2203 1419l2 0 0 35-1 0zM2078 1419l4 0-1 69-1 0zM2118 1482l3 0-1 43-1 0zM1817 1462l2 0-1 38-1 0zM1898 1483l3 0-1 33-1 0zM2046 1461l4 0-1 71-2 0zM1911 1443l3 0-1 57-1 0zM1865 1421l3 0-1 70-1 0zM2060 1452l4 0-1 40-2 0zM2206 1479l3 0 0 44-2 0zM1840 1455l2 0 0 67-1 0zM1960 1405l3 0-1 41-1 0zM2128 1416l3 0-1 53-1 0zM1821 1470l4 0-1 35-2 0zM1935 1466l3 0-1 59-1 0zM2196 1432l2 0-1 49-1 0zM2176 1407l4 0-2 44-1 0zM2165 1449l3 0-1 65-1 0zM1819 1394l2 0-1 74zM1924 1471l2 0-1 77zM2087 1433l3 0-1 47-1 0zM2155 1483l3 0-1 25-1 0zM2035 1431l4 0-1 72-2 0zM2043 1434l2 0-1 81-1 0zM1897 1441l2 0 0 43-1 0zM1839 1422l4 0-1 85-2 0zM1851 1416l3 0-1 75-2 0zM1891 1406l1 0 0 53-1 0zM1939 1468l2 0-1 32-1 0zM2197 1417l2 0 0 82-1 0zM1836 1413l2 0 0 40-1 0zM1886 1469l2 0 0 62-1 0zM1845 1469l1 0 0 61-1 0zM1967 1462l4 0-1 27-1 0zM2106 1425l4 0-1 61-2 0zM2169 1473l3 0-1 88-1 0zM2072 1405l5 0-2 47-1 0zM1939 1409l3 0-1 50-1 0zM1810 1422l2 0-1 38zM1969 1460l2 0 0 51-1 0zM1871 1480l3 0-1 34-1 0zM1875 1429l1 0 0 33-1 0zM3018 1505l3 0-1 76-1 0zM3060 1516l3 0-1 49-1 0zM2970 1494l3 0-1 60-1 0zM2976 1453l3 0-1 56-1 0zM3065 1408l3 0-1 34-1 0zM3068 1418l4 0-1 24-2 0zM2973 1509l3 0-1 41-1 0zM2991 1413l3 0-1 95-1 0zM3012 1439l2 0-1 37-1 0zM3003 1481l2 0-1 81zM3013 1444l2 0-1 57-1 0zM2948 1500l2 0-1 101-1 0zM2912 1401l2 0-1 100zM2963 1516l2 0-1 56-1 0zM3088 1506l3 0-1 117-1 0zM2987 1457l2 0-1 92-1 0zM3064 1426l2 0-1 97zM2987 1392l3 0-1 119-1 0zM2898 1422l2 0 0 86-1 0z"/><path fill="#ee3a3e" stroke="none" d="M2822 1392l4-4 15 0 4 4-1 20 0 8-1 39 0 7-2 39-1 8-2 29-1 8-3 15-2 3-2-3-1-5-2-47-1-8-2-62 0-8zM2766 1391l4 0-1 71-2 0zM2669 1391l4 0-1 21-2 0zM3150 1416l4 0 0 51-3 0zM3245 1388l7 0-1 79-4 0zM3053 1391l5 0-1 16-3 0zM3312 1465l3 0 0 11-3 0zM2234 1388l5 0-1 14zM2215 1493l6-2 1 11-5 2zM2292 1509l7 0-1 69-5-5zM2326 1523l5 0 0 46-4 4zM2336 1578l4 0-1 93-2 13zM2301 1462l5 0-2 51-2 0zM2357 1430l4 9 2 42-4-19zM2312 1518l3 0-1 65-1 0zM1832 1423l4-1 1 6-4 1zM2221 1389l2 0 0 33-2 0zM2220 1399l2 0 0 20-2 0zM2210 1392l3 0 0 18-3 0zM2222 1389l3 0 0 28-3 0zM2214 1389l2 0 0 26-2 0zM2216 1393l2 0 0 27-2 0zM2223 1399l3 0 0 26-3 0zM2240 1395l1 0 0 36-1 0zM2246 1403l2 0 0 19-2 0zM2236 1391l2 0 0 42-2 0zM2249 1392l2 0 0 28-2 0zM2249 1392l3 0 0 25-3 0zM2251 1399l4 0 0 27-4 0zM2289 1481l3 0 0 68-3 0zM2279 1474l3 0 0 101-3 0zM2262 1469l4 0 0 77-4 0zM2298 1499l3 0 0 90-3 0zM2293 1484l3 0 0 51-3 0zM2288 1495l3 0 0 38-3 0zM2259 1480l2 0 0 113-2 0zM2300 1488l2 0 0 89-2 0zM2287 1487l1 0 0 48-1 0zM2296 1494l2 0 0 68-2 0zM2709 1396l2 0 0 23-2 0zM2707 1393l1 0 0 20-1 0zM2710 1393l2 0 0 29-2 0zM2728 1388l2 0 0 37-2 0zM2720 1395l2 0 0 20-2 0zM2713 1396l1 0 0 13-1 0zM2722 1396l3 0 0 24-3 0zM2725 1398l3 0 0 30-3 0zM2716 1395l1 0 0 26-1 0zM2726 1392l3 0 0 16-3 0zM2726 1400l2 0 0 20-2 0zM2726 1400l3 0 0 17-3 0zM2727 1388l2 0 0 27-2 0zM2713 1393l3 0 0 20-3 0zM2777 1392l1 0 0 25-1 0zM2763 1393l2 0 0 33-2 0zM2768 1390l3 0 0 30-3 0zM2765 1392l2 0 0 36-2 0zM2767 1395l2 0 0 20-2 0zM3155 1393l1 0 0 23-1 0zM3163 1397l3 0 0 26-3 0zM3164 1389l3 0 0 24-3 0zM3161 1401l3 0 0 26-3 0zM3144 1396l3 0 0 27-3 0zM3144 1395l3 0 0 21-3 0zM3167 1389l2 0 0 36-2 0zM3147 1392l2 0 0 31-2 0zM3149 1400l2 0 0 32-2 0zM3165 1391l3 0 0 37-3 0zM3143 1389l2 0 0 23-2 0zM3167 1397l1 0 0 25-1 0zM3140 1389l3 0 0 41-3 0zM3163 1394l2 0 0 17-2 0zM3234 1395l1 0 0 35-1 0zM3234 1398l1 0 0 27-1 0zM3225 1396l2 0 0 23-2 0zM3230 1392l1 0 0 38-1 0zM3225 1393l3 0 0 21-3 0zM3216 1398l3 0 0 34-3 0zM3231 1390l2 0 0 21-2 0zM3232 1401l2 0 0 16-2 0zM3222 1390l2 0 0 21-2 0zM3229 1393l2 0 0 38-2 0zM3224 1395l3 0 0 17-3 0zM3217 1400l2 0 0 11-2 0zM3234 1397l2 0 0 31-2 0zM3235 1390l2 0 0 41-2 0zM2935 1392l3 0 0 8-3 0zM2902 1388l3 0 0 14-3 0zM2883 1390l2 0 0 10-2 0zM2901 1391l2 0 0 15-2 0zM2919 1392l2 0 0 8-2 0zM2644 1389l3 0 0 14-3 0zM2624 1392l2 0 0 4-2 0zM2655 1391l3 0 0 13-3 0zM2669 1389l2 0 0 11-2 0zM2628 1388l2 0 0 14-2 0zM2642 1389l1 0 0 14-1 0zM3102 1390l3 0 0 14-3 0zM3020 1393l3 0 0 5-3 0zM3001 1388l1 0 0 14-1 0zM3073 1389l2 0 0 12-2 0zM3016 1391l2 0 0 10-2 0zM3096 1389l3 0 0 9-3 0z"/><path fill="#a11d21" stroke="none" d="M2825 1402l4-4 8 0 3 4 0 33 0 8-2 39-1 2-2-2-3-5-3-11-2-7z"/><path fill="#4a55a8" stroke="none" d="M2304 1399l3 0 0 29-3 0zM2309 1388l1 0 0 32-1 0zM2300 1389l1 0 0 34-1 0zM2325 1388l4 0 0 28-4 0zM2300 1390l2 0 0 42-2 0zM2321 1390l2 0 0 18-2 0zM2285 1391l3 0 0 50-3 0zM2319 1390l1 0 0 29-1 0zM2318 1392l3 0 0 36-3 0zM2300 1400l2 0 0 26-2 0zM2320 1397l3 0 0 62-3 0zM2325 1403l2 0 0 23-2 0zM2319 1392l2 0 0 35-2 0zM2321 1391l3 0 0 58-3 0zM2322 1388l3 0 0 27-3 0zM2297 1402l2 0 0 43-2 0zM2320 1391l1 0 0 50-1 0zM2299 1388l2 0 0 15-2 0zM2302 1394l3 0 0 41-3 0zM2297 1398l1 0 0 30-1 0zM2306 1392l2 0 0 14-2 0zM2297 1389l2 0 0 14-2 0zM2305 1401l1 0 0 31-1 0zM2304 1388l2 0 0 17-2 0zM2319 1395l2 0 0 30-2 0zM2317 1400l2 0 0 56-2 0zM2715 1764l2 0 0 100-2 0zM2714 1764l2 0 0 100-2 0zM2788 1864l2 0 0 70-2 0zM2788 1864l2 0 0 70-2 0zM2268 1470l1 0 0 50-1 0zM2266 1470l2 0 0 50-2 0zM2264 1470l2 0 0 50-2 0zM2206 1424l2 0 0 16-2 0zM2208 1424l2 0 0 16-2 0zM3167 1424l2 0 0 20-2 0zM3167 1424l2 0 0 20-2 0zM3173 1424l2 0 0 20-2 0zM3251 1486l2 0 0 54-2 0zM2896 1410l1 0 0 30-1 0zM2902 1410l2 0 0 30-2 0z"/></g></g>
<rect x="81.5" y="31.3" width="804.0" height="276.1" fill="none" stroke="#1a1a1a" stroke-width="1.1"/><path d="M81.5 31.3h-3.8M81.5 86.5h-3.8M81.5 141.7h-3.8M81.5 197.0h-3.8M81.5 252.2h-3.8M81.5 307.4h-3.8" stroke="#1a1a1a" stroke-width="1.1" fill="none"/>
<rect x="81.5" y="362.6" width="804.0" height="275.7" fill="none" stroke="#1a1a1a" stroke-width="1.1"/><path d="M81.5 362.6h-3.8M81.5 417.7h-3.8M81.5 472.9h-3.8M81.5 528.0h-3.8M81.5 583.2h-3.8M81.5 638.3h-3.8" stroke="#1a1a1a" stroke-width="1.1" fill="none"/>
<rect x="81.5" y="693.7" width="804.0" height="275.8" fill="none" stroke="#1a1a1a" stroke-width="1.1"/><path d="M81.5 693.7h-3.8M81.5 748.9h-3.8M81.5 804.0h-3.8M81.5 859.2h-3.8M81.5 914.3h-3.8M81.5 969.5h-3.8M81.5 969.5v3.8M210.1 969.5v3.8M338.7 969.5v3.8M467.4 969.5v3.8M596.0 969.5v3.8M724.6 969.5v3.8M853.2 969.5v3.8" stroke="#1a1a1a" stroke-width="1.1" fill="none"/>
<rect x="902.5" y="31.3" width="803.2" height="276.1" fill="none" stroke="#1a1a1a" stroke-width="1.1"/><path d="M902.5 31.3h-3.8M902.5 86.5h-3.8M902.5 141.7h-3.8M902.5 197.0h-3.8M902.5 252.2h-3.8M902.5 307.4h-3.8" stroke="#1a1a1a" stroke-width="1.1" fill="none"/>
<rect x="902.5" y="362.6" width="803.2" height="275.7" fill="none" stroke="#1a1a1a" stroke-width="1.1"/><path d="M902.5 362.6h-3.8M902.5 417.7h-3.8M902.5 472.9h-3.8M902.5 528.0h-3.8M902.5 583.2h-3.8M902.5 638.3h-3.8" stroke="#1a1a1a" stroke-width="1.1" fill="none"/>
<rect x="902.5" y="693.7" width="803.2" height="275.8" fill="none" stroke="#1a1a1a" stroke-width="1.1"/><path d="M902.5 693.7h-3.8M902.5 748.9h-3.8M902.5 804.0h-3.8M902.5 859.2h-3.8M902.5 914.3h-3.8M902.5 969.5h-3.8M902.5 969.5v3.8M991.7 969.5v3.8M1080.9 969.5v3.8M1170.1 969.5v3.8M1259.3 969.5v3.8M1348.5 969.5v3.8M1437.7 969.5v3.8M1526.9 969.5v3.8M1616.1 969.5v3.8M1705.3 969.5v3.8" stroke="#1a1a1a" stroke-width="1.1" fill="none"/>
<text transform="translate(74.2,38.9) scale(0.853,1)" text-anchor="end">0</text>
<text transform="translate(74.2,94.1) scale(0.853,1)" text-anchor="end">-200</text>
<text transform="translate(74.2,149.3) scale(0.853,1)" text-anchor="end">-400</text>
<text transform="translate(74.2,204.6) scale(0.853,1)" text-anchor="end">-600</text>
<text transform="translate(74.2,259.8) scale(0.853,1)" text-anchor="end">-800</text>
<text transform="translate(74.2,315.0) scale(0.853,1)" text-anchor="end">-1000</text>
<text transform="translate(16.6,169.3) rotate(-90.0) scale(0.915,1)" text-anchor="middle" style="font-size:22px">Depth (m)</text>
<text transform="translate(74.2,370.2) scale(0.853,1)" text-anchor="end">0</text>
<text transform="translate(74.2,425.3) scale(0.853,1)" text-anchor="end">-200</text>
<text transform="translate(74.2,480.5) scale(0.853,1)" text-anchor="end">-400</text>
<text transform="translate(74.2,535.6) scale(0.853,1)" text-anchor="end">-600</text>
<text transform="translate(74.2,590.8) scale(0.853,1)" text-anchor="end">-800</text>
<text transform="translate(74.2,645.9) scale(0.853,1)" text-anchor="end">-1000</text>
<text transform="translate(16.6,500.4) rotate(-90.0) scale(0.915,1)" text-anchor="middle" style="font-size:22px">Depth (m)</text>
<text transform="translate(74.2,701.3) scale(0.853,1)" text-anchor="end">0</text>
<text transform="translate(74.2,756.5) scale(0.853,1)" text-anchor="end">-200</text>
<text transform="translate(74.2,811.6) scale(0.853,1)" text-anchor="end">-400</text>
<text transform="translate(74.2,866.8) scale(0.853,1)" text-anchor="end">-600</text>
<text transform="translate(74.2,921.9) scale(0.853,1)" text-anchor="end">-800</text>
<text transform="translate(74.2,977.1) scale(0.853,1)" text-anchor="end">-1000</text>
<text transform="translate(16.6,831.6) rotate(-90.0) scale(0.915,1)" text-anchor="middle" style="font-size:22px">Depth (m)</text>
<text x="80.6" y="23.8" class="b">A</text>
<text x="80.6" y="355.1" class="b">B</text>
<text x="80.6" y="686.2" class="b">C</text>
<text x="901.6" y="23.8" class="b">D</text>
<text x="901.6" y="355.1" class="b">E</text>
<text x="901.6" y="686.2" class="b">F</text>
<text transform="translate(81.5,991.6) scale(0.853,1)" text-anchor="middle">60°S</text>
<text transform="translate(210.1,991.6) scale(0.853,1)" text-anchor="middle">40°S</text>
<text transform="translate(338.7,991.6) scale(0.853,1)" text-anchor="middle">20°S</text>
<text transform="translate(467.4,991.6) scale(0.853,1)" text-anchor="middle">0°</text>
<text transform="translate(596.0,991.6) scale(0.853,1)" text-anchor="middle">20°N</text>
<text transform="translate(724.6,991.6) scale(0.853,1)" text-anchor="middle">40°N</text>
<text transform="translate(853.2,991.6) scale(0.853,1)" text-anchor="middle">60°N</text>
<text transform="translate(906.5,991.6) scale(0.853,1)" text-anchor="middle">180°</text>
<text transform="translate(991.7,991.6) scale(0.853,1)" text-anchor="middle">140°W</text>
<text transform="translate(1080.9,991.6) scale(0.853,1)" text-anchor="middle">100°W</text>
<text transform="translate(1170.1,991.6) scale(0.853,1)" text-anchor="middle">60°W</text>
<text transform="translate(1259.3,991.6) scale(0.853,1)" text-anchor="middle">20°W</text>
<text transform="translate(1348.5,991.6) scale(0.853,1)" text-anchor="middle">20°E</text>
<text transform="translate(1437.7,991.6) scale(0.853,1)" text-anchor="middle">60°E</text>
<text transform="translate(1526.9,991.6) scale(0.853,1)" text-anchor="middle">100°E</text>
<text transform="translate(1616.1,991.6) scale(0.853,1)" text-anchor="middle">140°E</text>
<text transform="translate(1702.3,991.6) scale(0.853,1)" text-anchor="middle">180°</text>
<rect x="1715.3" y="129.20" width="19.9" height="13.38" fill="#ed2224"/>
<rect x="1715.3" y="141.38" width="19.9" height="13.38" fill="#ee2a26"/>
<rect x="1715.3" y="153.55" width="19.9" height="13.38" fill="#ef4128"/>
<rect x="1715.3" y="165.73" width="19.9" height="13.38" fill="#f0512b"/>
<rect x="1715.3" y="177.91" width="19.9" height="13.38" fill="#f16531"/>
<rect x="1715.3" y="190.09" width="19.9" height="13.38" fill="#f37b3d"/>
<rect x="1715.3" y="202.26" width="19.9" height="13.38" fill="#f58d47"/>
<rect x="1715.3" y="214.44" width="19.9" height="13.38" fill="#f79e52"/>
<rect x="1715.3" y="226.62" width="19.9" height="13.38" fill="#f9b05f"/>
<rect x="1715.3" y="238.79" width="19.9" height="13.38" fill="#f5bf68"/>
<rect x="1715.3" y="250.97" width="19.9" height="13.38" fill="#e4c873"/>
<rect x="1715.3" y="263.15" width="19.9" height="13.38" fill="#d6d97d"/>
<rect x="1715.3" y="275.33" width="19.9" height="13.38" fill="#c5de88"/>
<rect x="1715.3" y="287.50" width="19.9" height="13.38" fill="#b9dc8d"/>
<rect x="1715.3" y="299.68" width="19.9" height="13.38" fill="#aed993"/>
<rect x="1715.3" y="311.86" width="19.9" height="13.38" fill="#a5d699"/>
<rect x="1715.3" y="324.03" width="19.9" height="13.38" fill="#9bd3a0"/>
<rect x="1715.3" y="336.21" width="19.9" height="13.38" fill="#92d0a6"/>
<rect x="1715.3" y="348.39" width="19.9" height="13.38" fill="#88cdab"/>
<rect x="1715.3" y="360.57" width="19.9" height="13.38" fill="#81ccb0"/>
<rect x="1715.3" y="372.74" width="19.9" height="13.38" fill="#78cbb6"/>
<rect x="1715.3" y="384.92" width="19.9" height="13.38" fill="#6fc9be"/>
<rect x="1715.3" y="397.10" width="19.9" height="13.38" fill="#65c7c8"/>
<rect x="1715.3" y="409.27" width="19.9" height="13.38" fill="#52c4d2"/>
<rect x="1715.3" y="421.45" width="19.9" height="13.38" fill="#3dc2de"/>
<rect x="1715.3" y="433.63" width="19.9" height="13.38" fill="#1fbce9"/>
<rect x="1715.3" y="445.81" width="19.9" height="13.38" fill="#28a9e2"/>
<rect x="1715.3" y="457.98" width="19.9" height="13.38" fill="#3a95d3"/>
<rect x="1715.3" y="470.16" width="19.9" height="13.38" fill="#4383c8"/>
<rect x="1715.3" y="482.34" width="19.9" height="13.38" fill="#4a75bd"/>
<rect x="1715.3" y="494.51" width="19.9" height="13.38" fill="#4e66b1"/>
<rect x="1715.3" y="506.69" width="19.9" height="13.38" fill="#5559aa"/>
<rect x="1715.3" y="518.87" width="19.9" height="13.38" fill="#5c52a4"/>
<rect x="1715.3" y="531.05" width="19.9" height="13.38" fill="#6450a2"/>
<rect x="1715.3" y="543.22" width="19.9" height="12.18" fill="#6c4d9f"/>
<rect x="1715.3" y="129.2" width="19.9" height="426.2" fill="none" stroke="#1a1a1a" stroke-width="1.1"/>
<text transform="translate(1743.8,525.5) scale(0.840,1)" style="font-size:20px">0</text>
<text transform="translate(1743.8,476.8) scale(0.840,1)" style="font-size:20px">4</text>
<text transform="translate(1743.8,428.1) scale(0.840,1)" style="font-size:20px">8</text>
<text transform="translate(1743.8,379.3) scale(0.840,1)" style="font-size:20px">12</text>
<text transform="translate(1743.8,330.6) scale(0.840,1)" style="font-size:20px">16</text>
<text transform="translate(1743.8,281.9) scale(0.840,1)" style="font-size:20px">20</text>
<text transform="translate(1743.8,233.2) scale(0.840,1)" style="font-size:20px">24</text>
<text transform="translate(1743.8,184.5) scale(0.840,1)" style="font-size:20px">28</text>
<text transform="translate(1743.8,135.8) scale(0.840,1)" style="font-size:20px">32</text>
<path d="M1735.2 518.9h4.2M1735.2 470.2h4.2M1735.2 421.5h4.2M1735.2 372.7h4.2M1735.2 324.0h4.2M1735.2 275.3h4.2M1735.2 226.6h4.2M1735.2 177.9h4.2M1735.2 129.2h4.2" stroke="#1a1a1a" stroke-width="1.1" fill="none"/>
<text transform="translate(1716.3,122.5) scale(0.850,1)" style="font-size:21px">°C</text>
<rect x="1715.3" y="714.00" width="19.9" height="31.55" fill="#9e1c20"/>
<rect x="1715.3" y="744.35" width="19.9" height="31.55" fill="#e01e26"/>
<rect x="1715.3" y="774.70" width="19.9" height="31.55" fill="#ee3e42"/>
<rect x="1715.3" y="805.05" width="19.9" height="31.55" fill="#f7bcbe"/>
<rect x="1715.3" y="835.40" width="19.9" height="31.55" fill="#c2c0e2"/>
<rect x="1715.3" y="865.75" width="19.9" height="31.55" fill="#4a55a8"/>
<rect x="1715.3" y="896.10" width="19.9" height="31.55" fill="#3247a0"/>
<rect x="1715.3" y="926.45" width="19.9" height="30.35" fill="#262a78"/>
<rect x="1715.3" y="714.0" width="19.9" height="242.8" fill="none" stroke="#1a1a1a" stroke-width="1.1"/>
<text transform="translate(1744.3,720.6) scale(0.840,1)" style="font-size:20px">1.0</text>
<text transform="translate(1744.3,781.3) scale(0.840,1)" style="font-size:20px">0.5</text>
<text transform="translate(1744.3,842.0) scale(0.840,1)" style="font-size:20px">0.0</text>
<text transform="translate(1744.3,902.7) scale(0.840,1)" style="font-size:20px">-0.5</text>
<text transform="translate(1744.3,963.4) scale(0.840,1)" style="font-size:20px">-1.0</text>
<path d="M1735.2 714.0h4.2M1735.2 774.7h4.2M1735.2 835.4h4.2M1735.2 896.1h4.2M1735.2 956.8h4.2" stroke="#1a1a1a" stroke-width="1.1" fill="none"/>
<text transform="translate(1716.3,708.0) scale(0.850,1)" style="font-size:21px">°C</text>
</svg></body></html>
